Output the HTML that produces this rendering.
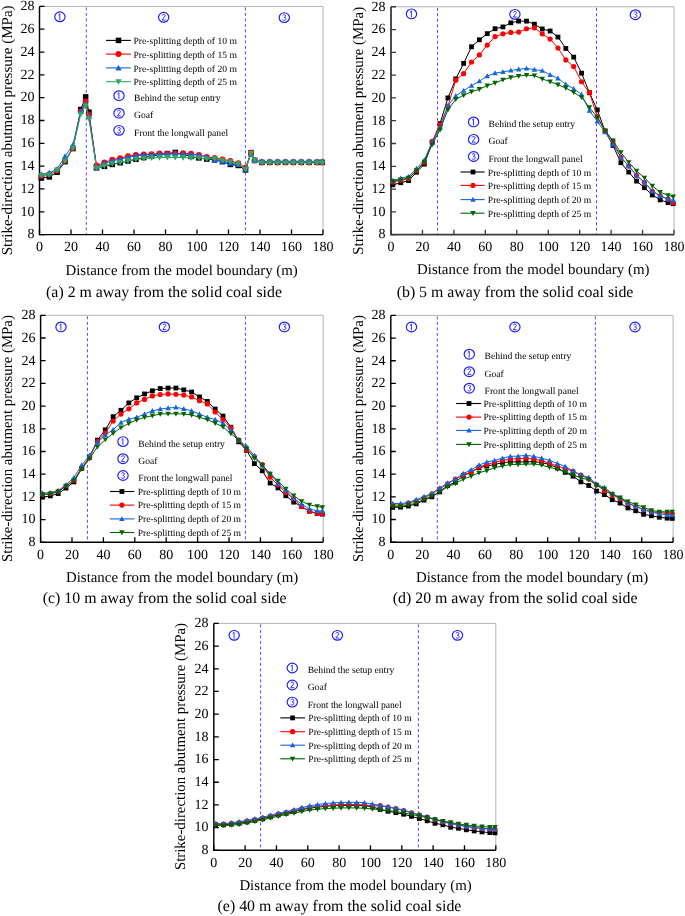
<!DOCTYPE html>
<html><head><meta charset="utf-8"><style>html,body{margin:0;padding:0;background:#fff;width:685px;height:916px;overflow:hidden}svg{display:block;will-change:transform}</style></head>
<body><svg width="685" height="916" viewBox="0 0 685 916" font-family='"Liberation Serif", serif' fill="#000" text-rendering="geometricPrecision">
<rect width="685" height="916" fill="#fff"/>
<path d="M39.5 6.4H323V234.6" fill="none" stroke="#b4b4b4" stroke-width="1"/>
<line x1="86.3" y1="7.4" x2="86.3" y2="234.6" stroke="#4a4aff" stroke-width="1" stroke-dasharray="3 2.5"/>
<line x1="245.4" y1="7.4" x2="245.4" y2="234.6" stroke="#4a4aff" stroke-width="1" stroke-dasharray="3 2.5"/>
<path d="M39.5 234.6h5M39.5 211.78h5M39.5 188.96h5M39.5 166.14h5M39.5 143.32h5M39.5 120.5h5M39.5 97.68h5M39.5 74.86h5M39.5 52.04h5M39.5 29.22h5M39.5 6.4h5M39.5 234.6v-5M71 234.6v-5M102.5 234.6v-5M134 234.6v-5M165.5 234.6v-5M197 234.6v-5M228.5 234.6v-5M260 234.6v-5M291.5 234.6v-5M323 234.6v-5" stroke="#000" stroke-width="1.3" fill="none"/>
<path d="M39.5 6.4V234.6H323" fill="none" stroke="#000" stroke-width="1.45"/>
<text x="34.6" y="238.4" font-size="14" text-anchor="end">8</text>
<text x="34.6" y="215.58" font-size="14" text-anchor="end">10</text>
<text x="34.6" y="192.76" font-size="14" text-anchor="end">12</text>
<text x="34.6" y="169.94" font-size="14" text-anchor="end">14</text>
<text x="34.6" y="147.12" font-size="14" text-anchor="end">16</text>
<text x="34.6" y="124.3" font-size="14" text-anchor="end">18</text>
<text x="34.6" y="101.48" font-size="14" text-anchor="end">20</text>
<text x="34.6" y="78.66" font-size="14" text-anchor="end">22</text>
<text x="34.6" y="55.84" font-size="14" text-anchor="end">24</text>
<text x="34.6" y="33.02" font-size="14" text-anchor="end">26</text>
<text x="34.6" y="10.2" font-size="14" text-anchor="end">28</text>
<text x="39.5" y="251" font-size="14" text-anchor="middle">0</text>
<text x="71" y="251" font-size="14" text-anchor="middle">20</text>
<text x="102.5" y="251" font-size="14" text-anchor="middle">40</text>
<text x="134" y="251" font-size="14" text-anchor="middle">60</text>
<text x="165.5" y="251" font-size="14" text-anchor="middle">80</text>
<text x="197" y="251" font-size="14" text-anchor="middle">100</text>
<text x="228.5" y="251" font-size="14" text-anchor="middle">120</text>
<text x="260" y="251" font-size="14" text-anchor="middle">140</text>
<text x="291.5" y="251" font-size="14" text-anchor="middle">160</text>
<text x="323" y="251" font-size="14" text-anchor="middle">180</text>
<ellipse cx="59.9" cy="16.8" rx="5.15" ry="4.85" fill="none" stroke="#1a1aff" stroke-width="1.15"/><path d="M58.6 14.9L59.8 13.8V19.8" fill="none" stroke="#2a2aff" stroke-width="0.95" stroke-linecap="round" stroke-linejoin="round"/>
<ellipse cx="163.7" cy="17.3" rx="5.15" ry="4.85" fill="none" stroke="#1a1aff" stroke-width="1.15"/><path d="M162.2 15.2C162.5 13.9 165.4 13.9 165.1 15.9L162.1 20H165.2" fill="none" stroke="#2a2aff" stroke-width="0.95" stroke-linecap="round" stroke-linejoin="round"/>
<ellipse cx="284.3" cy="17.6" rx="5.15" ry="4.85" fill="none" stroke="#1a1aff" stroke-width="1.15"/><path d="M282.9 15.3C283.5 14.2 285.9 14.4 285.6 16.2C285.4 17.2 284.6 17.4 284 17.4C285.5 17.4 286.1 18.4 285.8 19.5C285.4 20.7 283.5 20.7 282.8 19.9" fill="none" stroke="#2a2aff" stroke-width="0.95" stroke-linecap="round" stroke-linejoin="round"/>
<polyline points="41.39,178.01 49.27,176.87 57.14,172.19 65.02,161.69 72.89,148.57 80.77,109.55 85.65,96.88 88.95,112.17 96.52,167.85 104.39,166.37 112.27,164.43 120.14,162.72 128.01,161.01 135.89,159.29 143.76,157.58 151.64,156.1 159.51,154.73 167.39,153.59 175.27,152.45 183.14,154.73 191.01,156.44 198.89,157.92 206.76,159.07 214.64,159.86 222.51,161.69 230.39,164.43 238.26,165.46 245.51,169.91 251.02,152.68 254.64,160.44 261.89,162.37 269.76,162.37 277.64,162.37 285.51,162.37 293.39,162.37 301.26,162.37 309.14,162.37 317.01,162.37 322.21,162.37" fill="none" stroke="#000000" stroke-width="1" stroke-linejoin="round"/>
<rect x="38.63" y="175.25" width="5.52" height="5.52" fill="#000000"/>
<rect x="46.51" y="174.11" width="5.52" height="5.52" fill="#000000"/>
<rect x="54.38" y="169.43" width="5.52" height="5.52" fill="#000000"/>
<rect x="62.26" y="158.93" width="5.52" height="5.52" fill="#000000"/>
<rect x="70.13" y="145.81" width="5.52" height="5.52" fill="#000000"/>
<rect x="78" y="106.79" width="5.52" height="5.52" fill="#000000"/>
<rect x="82.89" y="94.12" width="5.52" height="5.52" fill="#000000"/>
<rect x="86.19" y="109.41" width="5.52" height="5.52" fill="#000000"/>
<rect x="93.75" y="165.09" width="5.52" height="5.52" fill="#000000"/>
<rect x="101.63" y="163.61" width="5.52" height="5.52" fill="#000000"/>
<rect x="109.5" y="161.67" width="5.52" height="5.52" fill="#000000"/>
<rect x="117.38" y="159.96" width="5.52" height="5.52" fill="#000000"/>
<rect x="125.25" y="158.25" width="5.52" height="5.52" fill="#000000"/>
<rect x="133.13" y="156.53" width="5.52" height="5.52" fill="#000000"/>
<rect x="141" y="154.82" width="5.52" height="5.52" fill="#000000"/>
<rect x="148.88" y="153.34" width="5.52" height="5.52" fill="#000000"/>
<rect x="156.75" y="151.97" width="5.52" height="5.52" fill="#000000"/>
<rect x="164.63" y="150.83" width="5.52" height="5.52" fill="#000000"/>
<rect x="172.51" y="149.69" width="5.52" height="5.52" fill="#000000"/>
<rect x="180.38" y="151.97" width="5.52" height="5.52" fill="#000000"/>
<rect x="188.25" y="153.68" width="5.52" height="5.52" fill="#000000"/>
<rect x="196.13" y="155.16" width="5.52" height="5.52" fill="#000000"/>
<rect x="204" y="156.31" width="5.52" height="5.52" fill="#000000"/>
<rect x="211.88" y="157.1" width="5.52" height="5.52" fill="#000000"/>
<rect x="219.75" y="158.93" width="5.52" height="5.52" fill="#000000"/>
<rect x="227.63" y="161.67" width="5.52" height="5.52" fill="#000000"/>
<rect x="235.5" y="162.7" width="5.52" height="5.52" fill="#000000"/>
<rect x="242.75" y="167.15" width="5.52" height="5.52" fill="#000000"/>
<rect x="248.26" y="149.92" width="5.52" height="5.52" fill="#000000"/>
<rect x="251.88" y="157.68" width="5.52" height="5.52" fill="#000000"/>
<rect x="259.13" y="159.61" width="5.52" height="5.52" fill="#000000"/>
<rect x="267" y="159.61" width="5.52" height="5.52" fill="#000000"/>
<rect x="274.88" y="159.61" width="5.52" height="5.52" fill="#000000"/>
<rect x="282.75" y="159.61" width="5.52" height="5.52" fill="#000000"/>
<rect x="290.63" y="159.61" width="5.52" height="5.52" fill="#000000"/>
<rect x="298.5" y="159.61" width="5.52" height="5.52" fill="#000000"/>
<rect x="306.38" y="159.61" width="5.52" height="5.52" fill="#000000"/>
<rect x="314.25" y="159.61" width="5.52" height="5.52" fill="#000000"/>
<rect x="319.45" y="159.61" width="5.52" height="5.52" fill="#000000"/>
<polyline points="41.39,175.84 49.27,174.13 57.14,170.48 65.02,160.44 72.89,147.88 80.77,111.37 85.65,101.45 88.95,114.79 96.52,165.57 104.39,162.6 112.27,159.75 120.14,158.15 128.01,156.21 135.89,154.96 143.76,154.39 151.64,154.16 159.51,153.59 167.39,153.82 175.27,153.59 183.14,153.36 191.01,153.82 198.89,154.96 206.76,157.01 214.64,157.92 222.51,159.41 230.39,160.89 238.26,163.17 245.51,167.62 251.02,152.68 254.64,160.21 261.89,162.37 269.76,162.37 277.64,162.37 285.51,162.37 293.39,162.37 301.26,162.37 309.14,162.37 317.01,162.37 322.21,162.37" fill="none" stroke="#ff0000" stroke-width="1" stroke-linejoin="round"/>
<circle cx="41.39" cy="175.84" r="2.99" fill="#ff0000"/>
<circle cx="49.27" cy="174.13" r="2.99" fill="#ff0000"/>
<circle cx="57.14" cy="170.48" r="2.99" fill="#ff0000"/>
<circle cx="65.02" cy="160.44" r="2.99" fill="#ff0000"/>
<circle cx="72.89" cy="147.88" r="2.99" fill="#ff0000"/>
<circle cx="80.77" cy="111.37" r="2.99" fill="#ff0000"/>
<circle cx="85.65" cy="101.45" r="2.99" fill="#ff0000"/>
<circle cx="88.95" cy="114.79" r="2.99" fill="#ff0000"/>
<circle cx="96.52" cy="165.57" r="2.99" fill="#ff0000"/>
<circle cx="104.39" cy="162.6" r="2.99" fill="#ff0000"/>
<circle cx="112.27" cy="159.75" r="2.99" fill="#ff0000"/>
<circle cx="120.14" cy="158.15" r="2.99" fill="#ff0000"/>
<circle cx="128.01" cy="156.21" r="2.99" fill="#ff0000"/>
<circle cx="135.89" cy="154.96" r="2.99" fill="#ff0000"/>
<circle cx="143.76" cy="154.39" r="2.99" fill="#ff0000"/>
<circle cx="151.64" cy="154.16" r="2.99" fill="#ff0000"/>
<circle cx="159.51" cy="153.59" r="2.99" fill="#ff0000"/>
<circle cx="167.39" cy="153.82" r="2.99" fill="#ff0000"/>
<circle cx="175.27" cy="153.59" r="2.99" fill="#ff0000"/>
<circle cx="183.14" cy="153.36" r="2.99" fill="#ff0000"/>
<circle cx="191.01" cy="153.82" r="2.99" fill="#ff0000"/>
<circle cx="198.89" cy="154.96" r="2.99" fill="#ff0000"/>
<circle cx="206.76" cy="157.01" r="2.99" fill="#ff0000"/>
<circle cx="214.64" cy="157.92" r="2.99" fill="#ff0000"/>
<circle cx="222.51" cy="159.41" r="2.99" fill="#ff0000"/>
<circle cx="230.39" cy="160.89" r="2.99" fill="#ff0000"/>
<circle cx="238.26" cy="163.17" r="2.99" fill="#ff0000"/>
<circle cx="245.51" cy="167.62" r="2.99" fill="#ff0000"/>
<circle cx="251.02" cy="152.68" r="2.99" fill="#ff0000"/>
<circle cx="254.64" cy="160.21" r="2.99" fill="#ff0000"/>
<circle cx="261.89" cy="162.37" r="2.99" fill="#ff0000"/>
<circle cx="269.76" cy="162.37" r="2.99" fill="#ff0000"/>
<circle cx="277.64" cy="162.37" r="2.99" fill="#ff0000"/>
<circle cx="285.51" cy="162.37" r="2.99" fill="#ff0000"/>
<circle cx="293.39" cy="162.37" r="2.99" fill="#ff0000"/>
<circle cx="301.26" cy="162.37" r="2.99" fill="#ff0000"/>
<circle cx="309.14" cy="162.37" r="2.99" fill="#ff0000"/>
<circle cx="317.01" cy="162.37" r="2.99" fill="#ff0000"/>
<circle cx="322.21" cy="162.37" r="2.99" fill="#ff0000"/>
<polyline points="41.39,174.36 49.27,172.99 57.14,168.99 65.02,156.44 72.89,144.8 80.77,111.37 85.65,103.5 88.95,116.51 96.52,167.28 104.39,163.29 112.27,160.66 120.14,159.29 128.01,157.24 135.89,155.87 143.76,155.07 151.64,154.73 159.51,154.16 167.39,154.16 175.27,153.82 183.14,154.16 191.01,154.39 198.89,155.3 206.76,156.67 214.64,159.86 222.51,161.23 230.39,163.17 238.26,164.43 245.51,169.33 251.02,154.16 254.64,160.55 261.89,161.35 269.76,161.35 277.64,161.35 285.51,161.35 293.39,161.35 301.26,161.35 309.14,161.35 317.01,161.35 322.21,161.35" fill="none" stroke="#1564e2" stroke-width="1" stroke-linejoin="round"/>
<path d="M41.39 171.24L44.55 176.87L38.23 176.87Z" fill="#1564e2"/>
<path d="M49.27 169.87L52.43 175.5L46.1 175.5Z" fill="#1564e2"/>
<path d="M57.14 165.88L60.3 171.51L53.98 171.51Z" fill="#1564e2"/>
<path d="M65.02 153.32L68.18 158.96L61.85 158.96Z" fill="#1564e2"/>
<path d="M72.89 141.69L76.05 147.32L69.73 147.32Z" fill="#1564e2"/>
<path d="M80.77 108.25L83.93 113.89L77.6 113.89Z" fill="#1564e2"/>
<path d="M85.65 100.38L88.81 106.02L82.49 106.02Z" fill="#1564e2"/>
<path d="M88.95 113.39L92.12 119.02L85.79 119.02Z" fill="#1564e2"/>
<path d="M96.52 164.16L99.68 169.8L93.35 169.8Z" fill="#1564e2"/>
<path d="M104.39 160.17L107.55 165.8L101.23 165.8Z" fill="#1564e2"/>
<path d="M112.27 157.55L115.43 163.18L109.1 163.18Z" fill="#1564e2"/>
<path d="M120.14 156.18L123.3 161.81L116.98 161.81Z" fill="#1564e2"/>
<path d="M128.01 154.12L131.18 159.76L124.85 159.76Z" fill="#1564e2"/>
<path d="M135.89 152.75L139.05 158.39L132.73 158.39Z" fill="#1564e2"/>
<path d="M143.76 151.95L146.93 157.59L140.6 157.59Z" fill="#1564e2"/>
<path d="M151.64 151.61L154.8 157.25L148.48 157.25Z" fill="#1564e2"/>
<path d="M159.51 151.04L162.68 156.68L156.35 156.68Z" fill="#1564e2"/>
<path d="M167.39 151.04L170.55 156.68L164.23 156.68Z" fill="#1564e2"/>
<path d="M175.27 150.7L178.43 156.33L172.1 156.33Z" fill="#1564e2"/>
<path d="M183.14 151.04L186.3 156.68L179.98 156.68Z" fill="#1564e2"/>
<path d="M191.01 151.27L194.18 156.91L187.85 156.91Z" fill="#1564e2"/>
<path d="M198.89 152.18L202.05 157.82L195.73 157.82Z" fill="#1564e2"/>
<path d="M206.76 153.55L209.93 159.19L203.6 159.19Z" fill="#1564e2"/>
<path d="M214.64 156.75L217.8 162.38L211.48 162.38Z" fill="#1564e2"/>
<path d="M222.51 158.12L225.68 163.75L219.35 163.75Z" fill="#1564e2"/>
<path d="M230.39 160.06L233.55 165.69L227.23 165.69Z" fill="#1564e2"/>
<path d="M238.26 161.31L241.43 166.95L235.1 166.95Z" fill="#1564e2"/>
<path d="M245.51 166.22L248.67 171.85L242.35 171.85Z" fill="#1564e2"/>
<path d="M251.02 151.04L254.19 156.68L247.86 156.68Z" fill="#1564e2"/>
<path d="M254.64 157.43L257.81 163.07L251.48 163.07Z" fill="#1564e2"/>
<path d="M261.89 158.23L265.05 163.87L258.73 163.87Z" fill="#1564e2"/>
<path d="M269.76 158.23L272.93 163.87L266.6 163.87Z" fill="#1564e2"/>
<path d="M277.64 158.23L280.8 163.87L274.48 163.87Z" fill="#1564e2"/>
<path d="M285.51 158.23L288.68 163.87L282.35 163.87Z" fill="#1564e2"/>
<path d="M293.39 158.23L296.55 163.87L290.23 163.87Z" fill="#1564e2"/>
<path d="M301.26 158.23L304.43 163.87L298.1 163.87Z" fill="#1564e2"/>
<path d="M309.14 158.23L312.3 163.87L305.98 163.87Z" fill="#1564e2"/>
<path d="M317.01 158.23L320.18 163.87L313.85 163.87Z" fill="#1564e2"/>
<path d="M322.21 158.23L325.38 163.87L319.05 163.87Z" fill="#1564e2"/>
<polyline points="41.39,175.5 49.27,174.93 57.14,170.02 65.02,161.12 72.89,148.34 80.77,114.34 85.65,105.9 88.95,118.79 96.52,168.19 104.39,166.14 112.27,163.74 120.14,162.6 128.01,160.89 135.89,159.41 143.76,158.61 151.64,157.92 159.51,157.58 167.39,157.47 175.27,157.47 183.14,157.58 191.01,157.92 198.89,157.92 206.76,159.07 214.64,158.5 222.51,160.32 230.39,161.69 238.26,163.74 245.51,169.33 251.02,153.59 254.64,160.32 261.89,162.95 269.76,162.95 277.64,162.95 285.51,162.95 293.39,162.95 301.26,162.95 309.14,162.95 317.01,162.95 322.21,162.95" fill="none" stroke="#30a860" stroke-width="1" stroke-linejoin="round"/>
<path d="M41.39 178.61L44.55 172.98L38.23 172.98Z" fill="#30a860"/>
<path d="M49.27 178.04L52.43 172.41L46.1 172.41Z" fill="#30a860"/>
<path d="M57.14 173.14L60.3 167.5L53.98 167.5Z" fill="#30a860"/>
<path d="M65.02 164.24L68.18 158.6L61.85 158.6Z" fill="#30a860"/>
<path d="M72.89 151.46L76.05 145.82L69.73 145.82Z" fill="#30a860"/>
<path d="M80.77 117.46L83.93 111.82L77.6 111.82Z" fill="#30a860"/>
<path d="M85.65 109.01L88.81 103.38L82.49 103.38Z" fill="#30a860"/>
<path d="M88.95 121.91L92.12 116.27L85.79 116.27Z" fill="#30a860"/>
<path d="M96.52 171.31L99.68 165.68L93.35 165.68Z" fill="#30a860"/>
<path d="M104.39 169.26L107.55 163.62L101.23 163.62Z" fill="#30a860"/>
<path d="M112.27 166.86L115.43 161.23L109.1 161.23Z" fill="#30a860"/>
<path d="M120.14 165.72L123.3 160.09L116.98 160.09Z" fill="#30a860"/>
<path d="M128.01 164.01L131.18 158.37L124.85 158.37Z" fill="#30a860"/>
<path d="M135.89 162.53L139.05 156.89L132.73 156.89Z" fill="#30a860"/>
<path d="M143.76 161.73L146.93 156.09L140.6 156.09Z" fill="#30a860"/>
<path d="M151.64 161.04L154.8 155.41L148.48 155.41Z" fill="#30a860"/>
<path d="M159.51 160.7L162.68 155.06L156.35 155.06Z" fill="#30a860"/>
<path d="M167.39 160.59L170.55 154.95L164.23 154.95Z" fill="#30a860"/>
<path d="M175.27 160.59L178.43 154.95L172.1 154.95Z" fill="#30a860"/>
<path d="M183.14 160.7L186.3 155.06L179.98 155.06Z" fill="#30a860"/>
<path d="M191.01 161.04L194.18 155.41L187.85 155.41Z" fill="#30a860"/>
<path d="M198.89 161.04L202.05 155.41L195.73 155.41Z" fill="#30a860"/>
<path d="M206.76 162.18L209.93 156.55L203.6 156.55Z" fill="#30a860"/>
<path d="M214.64 161.61L217.8 155.98L211.48 155.98Z" fill="#30a860"/>
<path d="M222.51 163.44L225.68 157.8L219.35 157.8Z" fill="#30a860"/>
<path d="M230.39 164.81L233.55 159.17L227.23 159.17Z" fill="#30a860"/>
<path d="M238.26 166.86L241.43 161.23L235.1 161.23Z" fill="#30a860"/>
<path d="M245.51 172.45L248.67 166.82L242.35 166.82Z" fill="#30a860"/>
<path d="M251.02 156.71L254.19 151.07L247.86 151.07Z" fill="#30a860"/>
<path d="M254.64 163.44L257.81 157.8L251.48 157.8Z" fill="#30a860"/>
<path d="M261.89 166.06L265.05 160.43L258.73 160.43Z" fill="#30a860"/>
<path d="M269.76 166.06L272.93 160.43L266.6 160.43Z" fill="#30a860"/>
<path d="M277.64 166.06L280.8 160.43L274.48 160.43Z" fill="#30a860"/>
<path d="M285.51 166.06L288.68 160.43L282.35 160.43Z" fill="#30a860"/>
<path d="M293.39 166.06L296.55 160.43L290.23 160.43Z" fill="#30a860"/>
<path d="M301.26 166.06L304.43 160.43L298.1 160.43Z" fill="#30a860"/>
<path d="M309.14 166.06L312.3 160.43L305.98 160.43Z" fill="#30a860"/>
<path d="M317.01 166.06L320.18 160.43L313.85 160.43Z" fill="#30a860"/>
<path d="M322.21 166.06L325.38 160.43L319.05 160.43Z" fill="#30a860"/>
<line x1="106" y1="40.4" x2="130.8" y2="40.4" stroke="#000000" stroke-width="1.1"/>
<rect x="115.74" y="37.64" width="5.52" height="5.52" fill="#000000"/>
<text x="133.5" y="44.1" font-size="9.6">Pre-splitting depth of 10 m</text>
<line x1="106" y1="54.1" x2="130.8" y2="54.1" stroke="#ff0000" stroke-width="1.1"/>
<circle cx="118.5" cy="54.1" r="2.99" fill="#ff0000"/>
<text x="133.5" y="57.8" font-size="9.6">Pre-splitting depth of 15 m</text>
<line x1="106" y1="67.9" x2="130.8" y2="67.9" stroke="#1564e2" stroke-width="1.1"/>
<path d="M118.5 64.78L121.66 70.42L115.34 70.42Z" fill="#1564e2"/>
<text x="133.5" y="71.6" font-size="9.6">Pre-splitting depth of 20 m</text>
<line x1="106" y1="81.7" x2="130.8" y2="81.7" stroke="#30a860" stroke-width="1.1"/>
<path d="M118.5 84.82L121.66 79.18L115.34 79.18Z" fill="#30a860"/>
<text x="133.5" y="85.4" font-size="9.6">Pre-splitting depth of 25 m</text>
<ellipse cx="119" cy="95.7" rx="5.15" ry="4.85" fill="none" stroke="#1a1aff" stroke-width="1.15"/><path d="M117.7 93.8L118.9 92.7V98.7" fill="none" stroke="#2a2aff" stroke-width="0.95" stroke-linecap="round" stroke-linejoin="round"/>
<text x="134" y="100.7" font-size="9.6">Behind the setup entry</text>
<ellipse cx="119" cy="113.2" rx="5.15" ry="4.85" fill="none" stroke="#1a1aff" stroke-width="1.15"/><path d="M117.5 111.1C117.8 109.8 120.7 109.8 120.4 111.8L117.4 115.9H120.5" fill="none" stroke="#2a2aff" stroke-width="0.95" stroke-linecap="round" stroke-linejoin="round"/>
<text x="134" y="118.2" font-size="9.6">Goaf</text>
<ellipse cx="119" cy="130.3" rx="5.15" ry="4.85" fill="none" stroke="#1a1aff" stroke-width="1.15"/><path d="M117.6 128C118.2 126.9 120.6 127.1 120.3 128.9C120.1 129.9 119.3 130.1 118.7 130.1C120.2 130.1 120.8 131.1 120.5 132.2C120.1 133.4 118.2 133.4 117.5 132.6" fill="none" stroke="#2a2aff" stroke-width="0.95" stroke-linecap="round" stroke-linejoin="round"/>
<text x="134" y="136.1" font-size="9.6">Front the longwall panel</text>
<text transform="translate(11.8 255.3) rotate(-90)" x="0" y="0" font-size="15" textLength="249.9" lengthAdjust="spacingAndGlyphs">Strike-direction abutment pressure (MPa)</text>
<text x="65.5" y="274.7" font-size="14.87">Distance from the model boundary (m)</text>
<text x="46.1" y="296.7" font-size="15.85">(a) 2 m away from the solid coal side</text>
<path d="M391 6.75H674V234.65" fill="none" stroke="#b4b4b4" stroke-width="1"/>
<line x1="437.5" y1="7.75" x2="437.5" y2="234.65" stroke="#4a4aff" stroke-width="1" stroke-dasharray="3 2.5"/>
<line x1="596.5" y1="7.75" x2="596.5" y2="234.65" stroke="#4a4aff" stroke-width="1" stroke-dasharray="3 2.5"/>
<path d="M391 234.65h5M391 211.86h5M391 189.07h5M391 166.28h5M391 143.49h5M391 120.7h5M391 97.91h5M391 75.12h5M391 52.33h5M391 29.54h5M391 6.75h5M391 234.65v-5M422.44 234.65v-5M453.89 234.65v-5M485.33 234.65v-5M516.78 234.65v-5M548.22 234.65v-5M579.67 234.65v-5M611.11 234.65v-5M642.56 234.65v-5M674 234.65v-5" stroke="#3a3a3a" stroke-width="1.3" fill="none"/>
<path d="M391 6.75V234.65H674" fill="none" stroke="#3a3a3a" stroke-width="1.8"/>
<text x="385.6" y="238.45" font-size="14" text-anchor="end">8</text>
<text x="385.6" y="215.66" font-size="14" text-anchor="end">10</text>
<text x="385.6" y="192.87" font-size="14" text-anchor="end">12</text>
<text x="385.6" y="170.08" font-size="14" text-anchor="end">14</text>
<text x="385.6" y="147.29" font-size="14" text-anchor="end">16</text>
<text x="385.6" y="124.5" font-size="14" text-anchor="end">18</text>
<text x="385.6" y="101.71" font-size="14" text-anchor="end">20</text>
<text x="385.6" y="78.92" font-size="14" text-anchor="end">22</text>
<text x="385.6" y="56.13" font-size="14" text-anchor="end">24</text>
<text x="385.6" y="33.34" font-size="14" text-anchor="end">26</text>
<text x="385.6" y="10.55" font-size="14" text-anchor="end">28</text>
<text x="391" y="251.05" font-size="14" text-anchor="middle">0</text>
<text x="422.44" y="251.05" font-size="14" text-anchor="middle">20</text>
<text x="453.89" y="251.05" font-size="14" text-anchor="middle">40</text>
<text x="485.33" y="251.05" font-size="14" text-anchor="middle">60</text>
<text x="516.78" y="251.05" font-size="14" text-anchor="middle">80</text>
<text x="548.22" y="251.05" font-size="14" text-anchor="middle">100</text>
<text x="579.67" y="251.05" font-size="14" text-anchor="middle">120</text>
<text x="611.11" y="251.05" font-size="14" text-anchor="middle">140</text>
<text x="642.56" y="251.05" font-size="14" text-anchor="middle">160</text>
<text x="674" y="251.05" font-size="14" text-anchor="middle">180</text>
<ellipse cx="411.5" cy="13.9" rx="5.15" ry="4.85" fill="none" stroke="#1a1aff" stroke-width="1.15"/><path d="M410.2 12L411.4 10.9V16.9" fill="none" stroke="#2a2aff" stroke-width="0.95" stroke-linecap="round" stroke-linejoin="round"/>
<ellipse cx="514.9" cy="14.3" rx="5.15" ry="4.85" fill="none" stroke="#1a1aff" stroke-width="1.15"/><path d="M513.4 12.2C513.7 10.9 516.6 10.9 516.3 12.9L513.3 17H516.4" fill="none" stroke="#2a2aff" stroke-width="0.95" stroke-linecap="round" stroke-linejoin="round"/>
<ellipse cx="635.4" cy="14.7" rx="5.15" ry="4.85" fill="none" stroke="#1a1aff" stroke-width="1.15"/><path d="M634 12.4C634.6 11.3 637 11.5 636.7 13.3C636.5 14.3 635.7 14.5 635.1 14.5C636.6 14.5 637.2 15.5 636.9 16.6C636.5 17.8 634.6 17.8 633.9 17" fill="none" stroke="#2a2aff" stroke-width="0.95" stroke-linecap="round" stroke-linejoin="round"/>
<polyline points="392.89,184.85 400.75,182.69 408.61,180.64 416.47,172.21 424.33,164.11 432.19,142.35 440.05,123.55 447.91,97.91 455.78,78.88 463.64,63.38 471.5,46.75 479.36,39.8 487.22,33.64 495.08,28.74 502.94,26.92 510.8,22.82 518.66,21.11 526.53,21.11 534.39,24.18 542.25,28.97 550.11,31.02 557.97,37.06 565.83,48.46 573.69,57.12 581.55,73.18 589.41,92.67 597.28,109.87 605.14,131.18 613,145.43 620.86,162.75 628.72,172.09 636.58,181.09 644.44,187.7 652.3,195 660.16,199.9 668.03,202.63 673.21,203.66" fill="none" stroke="#000000" stroke-width="1" stroke-linejoin="round"/>
<rect x="390.49" y="182.45" width="4.8" height="4.8" fill="#000000"/>
<rect x="398.35" y="180.29" width="4.8" height="4.8" fill="#000000"/>
<rect x="406.21" y="178.24" width="4.8" height="4.8" fill="#000000"/>
<rect x="414.07" y="169.81" width="4.8" height="4.8" fill="#000000"/>
<rect x="421.93" y="161.71" width="4.8" height="4.8" fill="#000000"/>
<rect x="429.79" y="139.95" width="4.8" height="4.8" fill="#000000"/>
<rect x="437.65" y="121.15" width="4.8" height="4.8" fill="#000000"/>
<rect x="445.51" y="95.51" width="4.8" height="4.8" fill="#000000"/>
<rect x="453.38" y="76.48" width="4.8" height="4.8" fill="#000000"/>
<rect x="461.24" y="60.98" width="4.8" height="4.8" fill="#000000"/>
<rect x="469.1" y="44.35" width="4.8" height="4.8" fill="#000000"/>
<rect x="476.96" y="37.4" width="4.8" height="4.8" fill="#000000"/>
<rect x="484.82" y="31.24" width="4.8" height="4.8" fill="#000000"/>
<rect x="492.68" y="26.34" width="4.8" height="4.8" fill="#000000"/>
<rect x="500.54" y="24.52" width="4.8" height="4.8" fill="#000000"/>
<rect x="508.4" y="20.42" width="4.8" height="4.8" fill="#000000"/>
<rect x="516.26" y="18.71" width="4.8" height="4.8" fill="#000000"/>
<rect x="524.13" y="18.71" width="4.8" height="4.8" fill="#000000"/>
<rect x="531.99" y="21.78" width="4.8" height="4.8" fill="#000000"/>
<rect x="539.85" y="26.57" width="4.8" height="4.8" fill="#000000"/>
<rect x="547.71" y="28.62" width="4.8" height="4.8" fill="#000000"/>
<rect x="555.57" y="34.66" width="4.8" height="4.8" fill="#000000"/>
<rect x="563.43" y="46.06" width="4.8" height="4.8" fill="#000000"/>
<rect x="571.29" y="54.72" width="4.8" height="4.8" fill="#000000"/>
<rect x="579.15" y="70.78" width="4.8" height="4.8" fill="#000000"/>
<rect x="587.01" y="90.27" width="4.8" height="4.8" fill="#000000"/>
<rect x="594.88" y="107.47" width="4.8" height="4.8" fill="#000000"/>
<rect x="602.74" y="128.78" width="4.8" height="4.8" fill="#000000"/>
<rect x="610.6" y="143.03" width="4.8" height="4.8" fill="#000000"/>
<rect x="618.46" y="160.35" width="4.8" height="4.8" fill="#000000"/>
<rect x="626.32" y="169.69" width="4.8" height="4.8" fill="#000000"/>
<rect x="634.18" y="178.69" width="4.8" height="4.8" fill="#000000"/>
<rect x="642.04" y="185.3" width="4.8" height="4.8" fill="#000000"/>
<rect x="649.9" y="192.6" width="4.8" height="4.8" fill="#000000"/>
<rect x="657.76" y="197.5" width="4.8" height="4.8" fill="#000000"/>
<rect x="665.63" y="200.23" width="4.8" height="4.8" fill="#000000"/>
<rect x="670.81" y="201.26" width="4.8" height="4.8" fill="#000000"/>
<polyline points="392.89,182.01 400.75,180.18 408.61,178.47 416.47,170.84 424.33,162.29 432.19,141.44 440.05,124.92 447.91,106.46 455.78,80.13 463.64,73.64 471.5,62.02 479.36,54.95 487.22,45.04 495.08,36.6 502.94,33.87 510.8,32.39 518.66,32.05 526.53,28.74 534.39,27.83 542.25,33.87 550.11,39 557.97,48 565.83,59.96 573.69,66.57 581.55,81.73 589.41,92.67 597.28,116.48 605.14,131.18 613,140.98 620.86,157.39 628.72,166.05 636.58,175.4 644.44,182.35 652.3,191.01 660.16,195.79 668.03,199.1 673.21,202.63" fill="none" stroke="#ff0000" stroke-width="1" stroke-linejoin="round"/>
<circle cx="392.89" cy="182.01" r="2.6" fill="#ff0000"/>
<circle cx="400.75" cy="180.18" r="2.6" fill="#ff0000"/>
<circle cx="408.61" cy="178.47" r="2.6" fill="#ff0000"/>
<circle cx="416.47" cy="170.84" r="2.6" fill="#ff0000"/>
<circle cx="424.33" cy="162.29" r="2.6" fill="#ff0000"/>
<circle cx="432.19" cy="141.44" r="2.6" fill="#ff0000"/>
<circle cx="440.05" cy="124.92" r="2.6" fill="#ff0000"/>
<circle cx="447.91" cy="106.46" r="2.6" fill="#ff0000"/>
<circle cx="455.78" cy="80.13" r="2.6" fill="#ff0000"/>
<circle cx="463.64" cy="73.64" r="2.6" fill="#ff0000"/>
<circle cx="471.5" cy="62.02" r="2.6" fill="#ff0000"/>
<circle cx="479.36" cy="54.95" r="2.6" fill="#ff0000"/>
<circle cx="487.22" cy="45.04" r="2.6" fill="#ff0000"/>
<circle cx="495.08" cy="36.6" r="2.6" fill="#ff0000"/>
<circle cx="502.94" cy="33.87" r="2.6" fill="#ff0000"/>
<circle cx="510.8" cy="32.39" r="2.6" fill="#ff0000"/>
<circle cx="518.66" cy="32.05" r="2.6" fill="#ff0000"/>
<circle cx="526.53" cy="28.74" r="2.6" fill="#ff0000"/>
<circle cx="534.39" cy="27.83" r="2.6" fill="#ff0000"/>
<circle cx="542.25" cy="33.87" r="2.6" fill="#ff0000"/>
<circle cx="550.11" cy="39" r="2.6" fill="#ff0000"/>
<circle cx="557.97" cy="48" r="2.6" fill="#ff0000"/>
<circle cx="565.83" cy="59.96" r="2.6" fill="#ff0000"/>
<circle cx="573.69" cy="66.57" r="2.6" fill="#ff0000"/>
<circle cx="581.55" cy="81.73" r="2.6" fill="#ff0000"/>
<circle cx="589.41" cy="92.67" r="2.6" fill="#ff0000"/>
<circle cx="597.28" cy="116.48" r="2.6" fill="#ff0000"/>
<circle cx="605.14" cy="131.18" r="2.6" fill="#ff0000"/>
<circle cx="613" cy="140.98" r="2.6" fill="#ff0000"/>
<circle cx="620.86" cy="157.39" r="2.6" fill="#ff0000"/>
<circle cx="628.72" cy="166.05" r="2.6" fill="#ff0000"/>
<circle cx="636.58" cy="175.4" r="2.6" fill="#ff0000"/>
<circle cx="644.44" cy="182.35" r="2.6" fill="#ff0000"/>
<circle cx="652.3" cy="191.01" r="2.6" fill="#ff0000"/>
<circle cx="660.16" cy="195.79" r="2.6" fill="#ff0000"/>
<circle cx="668.03" cy="199.1" r="2.6" fill="#ff0000"/>
<circle cx="673.21" cy="202.63" r="2.6" fill="#ff0000"/>
<polyline points="392.89,180.52 400.75,178.24 408.61,176.54 416.47,168.56 424.33,159.9 432.19,142.01 440.05,127.99 447.91,105.77 455.78,95.74 463.64,90.62 471.5,85.72 479.36,81.16 487.22,76.03 495.08,73.07 502.94,71.93 510.8,70.45 518.66,69.31 526.53,68.4 534.39,69.54 542.25,70.68 550.11,74.78 557.97,78.31 565.83,84.24 573.69,88.79 581.55,94.38 589.41,110.67 597.28,121.38 605.14,131.98 613,144.29 620.86,157.39 628.72,166.05 636.58,175.4 644.44,182.35 652.3,191.01 660.16,195.79 668.03,199.1 673.21,200.35" fill="none" stroke="#1564e2" stroke-width="1" stroke-linejoin="round"/>
<path d="M392.89 177.77L395.64 182.67L390.14 182.67Z" fill="#1564e2"/>
<path d="M400.75 175.49L403.5 180.39L398 180.39Z" fill="#1564e2"/>
<path d="M408.61 173.79L411.36 178.69L405.86 178.69Z" fill="#1564e2"/>
<path d="M416.47 165.81L419.22 170.71L413.72 170.71Z" fill="#1564e2"/>
<path d="M424.33 157.15L427.08 162.05L421.58 162.05Z" fill="#1564e2"/>
<path d="M432.19 139.26L434.94 144.16L429.44 144.16Z" fill="#1564e2"/>
<path d="M440.05 125.24L442.8 130.14L437.3 130.14Z" fill="#1564e2"/>
<path d="M447.91 103.02L450.66 107.92L445.16 107.92Z" fill="#1564e2"/>
<path d="M455.78 92.99L458.53 97.89L453.03 97.89Z" fill="#1564e2"/>
<path d="M463.64 87.87L466.39 92.77L460.89 92.77Z" fill="#1564e2"/>
<path d="M471.5 82.97L474.25 87.87L468.75 87.87Z" fill="#1564e2"/>
<path d="M479.36 78.41L482.11 83.31L476.61 83.31Z" fill="#1564e2"/>
<path d="M487.22 73.28L489.97 78.18L484.47 78.18Z" fill="#1564e2"/>
<path d="M495.08 70.32L497.83 75.22L492.33 75.22Z" fill="#1564e2"/>
<path d="M502.94 69.18L505.69 74.08L500.19 74.08Z" fill="#1564e2"/>
<path d="M510.8 67.7L513.55 72.6L508.05 72.6Z" fill="#1564e2"/>
<path d="M518.66 66.56L521.41 71.46L515.91 71.46Z" fill="#1564e2"/>
<path d="M526.53 65.65L529.28 70.55L523.78 70.55Z" fill="#1564e2"/>
<path d="M534.39 66.79L537.14 71.69L531.64 71.69Z" fill="#1564e2"/>
<path d="M542.25 67.93L545 72.83L539.5 72.83Z" fill="#1564e2"/>
<path d="M550.11 72.03L552.86 76.93L547.36 76.93Z" fill="#1564e2"/>
<path d="M557.97 75.56L560.72 80.46L555.22 80.46Z" fill="#1564e2"/>
<path d="M565.83 81.49L568.58 86.39L563.08 86.39Z" fill="#1564e2"/>
<path d="M573.69 86.04L576.44 90.94L570.94 90.94Z" fill="#1564e2"/>
<path d="M581.55 91.63L584.3 96.53L578.8 96.53Z" fill="#1564e2"/>
<path d="M589.41 107.92L592.16 112.82L586.66 112.82Z" fill="#1564e2"/>
<path d="M597.28 118.63L600.03 123.53L594.53 123.53Z" fill="#1564e2"/>
<path d="M605.14 129.23L607.89 134.13L602.39 134.13Z" fill="#1564e2"/>
<path d="M613 141.54L615.75 146.44L610.25 146.44Z" fill="#1564e2"/>
<path d="M620.86 154.64L623.61 159.54L618.11 159.54Z" fill="#1564e2"/>
<path d="M628.72 163.3L631.47 168.2L625.97 168.2Z" fill="#1564e2"/>
<path d="M636.58 172.65L639.33 177.55L633.83 177.55Z" fill="#1564e2"/>
<path d="M644.44 179.6L647.19 184.5L641.69 184.5Z" fill="#1564e2"/>
<path d="M652.3 188.26L655.05 193.16L649.55 193.16Z" fill="#1564e2"/>
<path d="M660.16 193.04L662.91 197.94L657.41 197.94Z" fill="#1564e2"/>
<path d="M668.03 196.35L670.78 201.25L665.28 201.25Z" fill="#1564e2"/>
<path d="M673.21 197.6L675.96 202.5L670.46 202.5Z" fill="#1564e2"/>
<polyline points="392.89,181.44 400.75,179.61 408.61,177.9 416.47,170.5 424.33,161.95 432.19,144.63 440.05,129.7 447.91,109.87 455.78,99.28 463.64,95.29 471.5,91.76 479.36,89.14 487.22,85.72 495.08,82.98 502.94,79.79 510.8,77.51 518.66,76.03 526.53,75.23 534.39,75.58 542.25,78.88 550.11,81.73 557.97,84.69 565.83,88 573.69,92.33 581.55,97.34 589.41,107.48 597.28,117.28 605.14,130.73 613,140.53 620.86,152.49 628.72,162.29 636.58,170.95 644.44,177.79 652.3,185.99 660.16,192.15 668.03,195.45 673.21,196.7" fill="none" stroke="#006400" stroke-width="1" stroke-linejoin="round"/>
<path d="M392.89 184.19L395.64 179.29L390.14 179.29Z" fill="#006400"/>
<path d="M400.75 182.36L403.5 177.46L398 177.46Z" fill="#006400"/>
<path d="M408.61 180.65L411.36 175.75L405.86 175.75Z" fill="#006400"/>
<path d="M416.47 173.25L419.22 168.35L413.72 168.35Z" fill="#006400"/>
<path d="M424.33 164.7L427.08 159.8L421.58 159.8Z" fill="#006400"/>
<path d="M432.19 147.38L434.94 142.48L429.44 142.48Z" fill="#006400"/>
<path d="M440.05 132.45L442.8 127.55L437.3 127.55Z" fill="#006400"/>
<path d="M447.91 112.62L450.66 107.72L445.16 107.72Z" fill="#006400"/>
<path d="M455.78 102.03L458.53 97.13L453.03 97.13Z" fill="#006400"/>
<path d="M463.64 98.04L466.39 93.14L460.89 93.14Z" fill="#006400"/>
<path d="M471.5 94.51L474.25 89.61L468.75 89.61Z" fill="#006400"/>
<path d="M479.36 91.89L482.11 86.99L476.61 86.99Z" fill="#006400"/>
<path d="M487.22 88.47L489.97 83.57L484.47 83.57Z" fill="#006400"/>
<path d="M495.08 85.73L497.83 80.83L492.33 80.83Z" fill="#006400"/>
<path d="M502.94 82.54L505.69 77.64L500.19 77.64Z" fill="#006400"/>
<path d="M510.8 80.26L513.55 75.36L508.05 75.36Z" fill="#006400"/>
<path d="M518.66 78.78L521.41 73.88L515.91 73.88Z" fill="#006400"/>
<path d="M526.53 77.98L529.28 73.08L523.78 73.08Z" fill="#006400"/>
<path d="M534.39 78.33L537.14 73.43L531.64 73.43Z" fill="#006400"/>
<path d="M542.25 81.63L545 76.73L539.5 76.73Z" fill="#006400"/>
<path d="M550.11 84.48L552.86 79.58L547.36 79.58Z" fill="#006400"/>
<path d="M557.97 87.44L560.72 82.54L555.22 82.54Z" fill="#006400"/>
<path d="M565.83 90.75L568.58 85.85L563.08 85.85Z" fill="#006400"/>
<path d="M573.69 95.08L576.44 90.18L570.94 90.18Z" fill="#006400"/>
<path d="M581.55 100.09L584.3 95.19L578.8 95.19Z" fill="#006400"/>
<path d="M589.41 110.23L592.16 105.33L586.66 105.33Z" fill="#006400"/>
<path d="M597.28 120.03L600.03 115.13L594.53 115.13Z" fill="#006400"/>
<path d="M605.14 133.48L607.89 128.58L602.39 128.58Z" fill="#006400"/>
<path d="M613 143.28L615.75 138.38L610.25 138.38Z" fill="#006400"/>
<path d="M620.86 155.24L623.61 150.34L618.11 150.34Z" fill="#006400"/>
<path d="M628.72 165.04L631.47 160.14L625.97 160.14Z" fill="#006400"/>
<path d="M636.58 173.7L639.33 168.8L633.83 168.8Z" fill="#006400"/>
<path d="M644.44 180.54L647.19 175.64L641.69 175.64Z" fill="#006400"/>
<path d="M652.3 188.74L655.05 183.84L649.55 183.84Z" fill="#006400"/>
<path d="M660.16 194.9L662.91 190L657.41 190Z" fill="#006400"/>
<path d="M668.03 198.2L670.78 193.3L665.28 193.3Z" fill="#006400"/>
<path d="M673.21 199.45L675.96 194.55L670.46 194.55Z" fill="#006400"/>
<line x1="460.5" y1="172" x2="484.6" y2="172" stroke="#000000" stroke-width="1.1"/>
<rect x="470.6" y="169.6" width="4.8" height="4.8" fill="#000000"/>
<text x="487.8" y="175.8" font-size="9.6">Pre-splitting depth of 10 m</text>
<line x1="460.5" y1="185.4" x2="484.6" y2="185.4" stroke="#ff0000" stroke-width="1.1"/>
<circle cx="473" cy="185.4" r="2.6" fill="#ff0000"/>
<text x="487.8" y="189.2" font-size="9.6">Pre-splitting depth of 15 m</text>
<line x1="460.5" y1="199.6" x2="484.6" y2="199.6" stroke="#1564e2" stroke-width="1.1"/>
<path d="M473 196.85L475.75 201.75L470.25 201.75Z" fill="#1564e2"/>
<text x="487.8" y="203.4" font-size="9.6">Pre-splitting depth of 20 m</text>
<line x1="460.5" y1="213.2" x2="484.6" y2="213.2" stroke="#006400" stroke-width="1.1"/>
<path d="M473 215.95L475.75 211.05L470.25 211.05Z" fill="#006400"/>
<text x="487.8" y="217" font-size="9.6">Pre-splitting depth of 25 m</text>
<ellipse cx="473.6" cy="121.9" rx="5.15" ry="4.85" fill="none" stroke="#1a1aff" stroke-width="1.15"/><path d="M472.3 120L473.5 118.9V124.9" fill="none" stroke="#2a2aff" stroke-width="0.95" stroke-linecap="round" stroke-linejoin="round"/>
<text x="488.5" y="126.9" font-size="9.6">Behind the setup entry</text>
<ellipse cx="473.6" cy="139.4" rx="5.15" ry="4.85" fill="none" stroke="#1a1aff" stroke-width="1.15"/><path d="M472.1 137.3C472.4 136 475.3 136 475 138L472 142.1H475.1" fill="none" stroke="#2a2aff" stroke-width="0.95" stroke-linecap="round" stroke-linejoin="round"/>
<text x="488.5" y="144.4" font-size="9.6">Goaf</text>
<ellipse cx="473.6" cy="156.5" rx="5.15" ry="4.85" fill="none" stroke="#1a1aff" stroke-width="1.15"/><path d="M472.2 154.2C472.8 153.1 475.2 153.3 474.9 155.1C474.7 156.1 473.9 156.3 473.3 156.3C474.8 156.3 475.4 157.3 475.1 158.4C474.7 159.6 472.8 159.6 472.1 158.8" fill="none" stroke="#2a2aff" stroke-width="0.95" stroke-linecap="round" stroke-linejoin="round"/>
<text x="488.5" y="162.3" font-size="9.6">Front the longwall panel</text>
<text transform="translate(362.9 254.8) rotate(-90)" x="0" y="0" font-size="15" textLength="248" lengthAdjust="spacingAndGlyphs">Strike-direction abutment pressure (MPa)</text>
<text x="417.1" y="274.3" font-size="14.87">Distance from the model boundary (m)</text>
<text x="396.7" y="296.6" font-size="15.85">(b) 5 m away from the solid coal side</text>
<path d="M40.6 315.3H323.2V542.3" fill="none" stroke="#b4b4b4" stroke-width="1"/>
<line x1="87.4" y1="316.3" x2="87.4" y2="542.3" stroke="#4a4aff" stroke-width="1" stroke-dasharray="3 2.5"/>
<line x1="245.4" y1="316.3" x2="245.4" y2="542.3" stroke="#4a4aff" stroke-width="1" stroke-dasharray="3 2.5"/>
<path d="M40.6 542.3h5M40.6 519.6h5M40.6 496.9h5M40.6 474.2h5M40.6 451.5h5M40.6 428.8h5M40.6 406.1h5M40.6 383.4h5M40.6 360.7h5M40.6 338h5M40.6 315.3h5M40.6 542.3v-5M72 542.3v-5M103.4 542.3v-5M134.8 542.3v-5M166.2 542.3v-5M197.6 542.3v-5M229 542.3v-5M260.4 542.3v-5M291.8 542.3v-5M323.2 542.3v-5" stroke="#000" stroke-width="1.3" fill="none"/>
<path d="M40.6 315.3V542.3H323.2" fill="none" stroke="#000" stroke-width="1.45"/>
<text x="35.5" y="546.1" font-size="14" text-anchor="end">8</text>
<text x="35.5" y="523.4" font-size="14" text-anchor="end">10</text>
<text x="35.5" y="500.7" font-size="14" text-anchor="end">12</text>
<text x="35.5" y="478" font-size="14" text-anchor="end">14</text>
<text x="35.5" y="455.3" font-size="14" text-anchor="end">16</text>
<text x="35.5" y="432.6" font-size="14" text-anchor="end">18</text>
<text x="35.5" y="409.9" font-size="14" text-anchor="end">20</text>
<text x="35.5" y="387.2" font-size="14" text-anchor="end">22</text>
<text x="35.5" y="364.5" font-size="14" text-anchor="end">24</text>
<text x="35.5" y="341.8" font-size="14" text-anchor="end">26</text>
<text x="35.5" y="319.1" font-size="14" text-anchor="end">28</text>
<text x="40.6" y="558.7" font-size="14" text-anchor="middle">0</text>
<text x="72" y="558.7" font-size="14" text-anchor="middle">20</text>
<text x="103.4" y="558.7" font-size="14" text-anchor="middle">40</text>
<text x="134.8" y="558.7" font-size="14" text-anchor="middle">60</text>
<text x="166.2" y="558.7" font-size="14" text-anchor="middle">80</text>
<text x="197.6" y="558.7" font-size="14" text-anchor="middle">100</text>
<text x="229" y="558.7" font-size="14" text-anchor="middle">120</text>
<text x="260.4" y="558.7" font-size="14" text-anchor="middle">140</text>
<text x="291.8" y="558.7" font-size="14" text-anchor="middle">160</text>
<text x="323.2" y="558.7" font-size="14" text-anchor="middle">180</text>
<ellipse cx="61" cy="326.9" rx="5.15" ry="4.85" fill="none" stroke="#1a1aff" stroke-width="1.15"/><path d="M59.7 325L60.9 323.9V329.9" fill="none" stroke="#2a2aff" stroke-width="0.95" stroke-linecap="round" stroke-linejoin="round"/>
<ellipse cx="164.4" cy="326.9" rx="5.15" ry="4.85" fill="none" stroke="#1a1aff" stroke-width="1.15"/><path d="M162.9 324.8C163.2 323.5 166.1 323.5 165.8 325.5L162.8 329.6H165.9" fill="none" stroke="#2a2aff" stroke-width="0.95" stroke-linecap="round" stroke-linejoin="round"/>
<ellipse cx="284.4" cy="326.9" rx="5.15" ry="4.85" fill="none" stroke="#1a1aff" stroke-width="1.15"/><path d="M283 324.6C283.6 323.5 286 323.7 285.7 325.5C285.5 326.5 284.7 326.7 284.1 326.7C285.6 326.7 286.2 327.7 285.9 328.8C285.5 330 283.6 330 282.9 329.2" fill="none" stroke="#2a2aff" stroke-width="0.95" stroke-linecap="round" stroke-linejoin="round"/>
<polyline points="42.48,497.24 50.33,495.88 58.18,493.61 66.03,488.05 73.88,481.92 81.73,468.41 89.58,457.29 97.43,440.15 105.28,429.82 113.13,416.66 120.98,410.3 128.83,402.92 136.68,397.81 144.53,393.96 152.38,390.78 160.23,388.51 168.08,388.05 175.93,388.05 183.78,389.87 191.63,392.03 199.48,396.91 207.33,401.45 215.18,409.05 223.03,416.09 230.88,427.21 238.73,441.85 246.58,450.59 254.43,463.64 262.28,470.79 270.13,483.05 277.98,487.93 285.83,495.76 293.68,502.12 301.53,506.55 309.38,511.2 317.23,513.58 322.42,514.15" fill="none" stroke="#000000" stroke-width="1" stroke-linejoin="round"/>
<rect x="40.08" y="494.84" width="4.8" height="4.8" fill="#000000"/>
<rect x="47.93" y="493.48" width="4.8" height="4.8" fill="#000000"/>
<rect x="55.78" y="491.21" width="4.8" height="4.8" fill="#000000"/>
<rect x="63.63" y="485.65" width="4.8" height="4.8" fill="#000000"/>
<rect x="71.48" y="479.52" width="4.8" height="4.8" fill="#000000"/>
<rect x="79.33" y="466.01" width="4.8" height="4.8" fill="#000000"/>
<rect x="87.18" y="454.89" width="4.8" height="4.8" fill="#000000"/>
<rect x="95.03" y="437.75" width="4.8" height="4.8" fill="#000000"/>
<rect x="102.88" y="427.42" width="4.8" height="4.8" fill="#000000"/>
<rect x="110.73" y="414.26" width="4.8" height="4.8" fill="#000000"/>
<rect x="118.58" y="407.9" width="4.8" height="4.8" fill="#000000"/>
<rect x="126.43" y="400.52" width="4.8" height="4.8" fill="#000000"/>
<rect x="134.28" y="395.41" width="4.8" height="4.8" fill="#000000"/>
<rect x="142.13" y="391.56" width="4.8" height="4.8" fill="#000000"/>
<rect x="149.98" y="388.38" width="4.8" height="4.8" fill="#000000"/>
<rect x="157.83" y="386.11" width="4.8" height="4.8" fill="#000000"/>
<rect x="165.68" y="385.65" width="4.8" height="4.8" fill="#000000"/>
<rect x="173.53" y="385.65" width="4.8" height="4.8" fill="#000000"/>
<rect x="181.38" y="387.47" width="4.8" height="4.8" fill="#000000"/>
<rect x="189.23" y="389.63" width="4.8" height="4.8" fill="#000000"/>
<rect x="197.08" y="394.51" width="4.8" height="4.8" fill="#000000"/>
<rect x="204.93" y="399.05" width="4.8" height="4.8" fill="#000000"/>
<rect x="212.78" y="406.65" width="4.8" height="4.8" fill="#000000"/>
<rect x="220.63" y="413.69" width="4.8" height="4.8" fill="#000000"/>
<rect x="228.48" y="424.81" width="4.8" height="4.8" fill="#000000"/>
<rect x="236.33" y="439.45" width="4.8" height="4.8" fill="#000000"/>
<rect x="244.18" y="448.19" width="4.8" height="4.8" fill="#000000"/>
<rect x="252.03" y="461.24" width="4.8" height="4.8" fill="#000000"/>
<rect x="259.88" y="468.39" width="4.8" height="4.8" fill="#000000"/>
<rect x="267.73" y="480.65" width="4.8" height="4.8" fill="#000000"/>
<rect x="275.58" y="485.53" width="4.8" height="4.8" fill="#000000"/>
<rect x="283.43" y="493.37" width="4.8" height="4.8" fill="#000000"/>
<rect x="291.28" y="499.72" width="4.8" height="4.8" fill="#000000"/>
<rect x="299.13" y="504.15" width="4.8" height="4.8" fill="#000000"/>
<rect x="306.98" y="508.8" width="4.8" height="4.8" fill="#000000"/>
<rect x="314.83" y="511.18" width="4.8" height="4.8" fill="#000000"/>
<rect x="320.02" y="511.75" width="4.8" height="4.8" fill="#000000"/>
<polyline points="42.48,494.29 50.33,493.61 58.18,491.34 66.03,485.78 73.88,480.22 81.73,467.96 89.58,457.29 97.43,441.51 105.28,433 113.13,421.08 120.98,414.04 128.83,408.82 136.68,402.92 144.53,399.4 152.38,395.88 160.23,394.52 168.08,393.96 175.93,394.3 183.78,395.09 191.63,397.02 199.48,400.65 207.33,403.94 215.18,412 223.03,419.61 230.88,427.78 238.73,440.15 246.58,450.14 254.43,456.61 262.28,464.55 270.13,477.15 277.98,484.98 285.83,492.59 293.68,498.94 301.53,506.55 309.38,511.2 317.23,513.24 322.42,513.81" fill="none" stroke="#ff0000" stroke-width="1" stroke-linejoin="round"/>
<circle cx="42.48" cy="494.29" r="2.6" fill="#ff0000"/>
<circle cx="50.33" cy="493.61" r="2.6" fill="#ff0000"/>
<circle cx="58.18" cy="491.34" r="2.6" fill="#ff0000"/>
<circle cx="66.03" cy="485.78" r="2.6" fill="#ff0000"/>
<circle cx="73.88" cy="480.22" r="2.6" fill="#ff0000"/>
<circle cx="81.73" cy="467.96" r="2.6" fill="#ff0000"/>
<circle cx="89.58" cy="457.29" r="2.6" fill="#ff0000"/>
<circle cx="97.43" cy="441.51" r="2.6" fill="#ff0000"/>
<circle cx="105.28" cy="433" r="2.6" fill="#ff0000"/>
<circle cx="113.13" cy="421.08" r="2.6" fill="#ff0000"/>
<circle cx="120.98" cy="414.04" r="2.6" fill="#ff0000"/>
<circle cx="128.83" cy="408.82" r="2.6" fill="#ff0000"/>
<circle cx="136.68" cy="402.92" r="2.6" fill="#ff0000"/>
<circle cx="144.53" cy="399.4" r="2.6" fill="#ff0000"/>
<circle cx="152.38" cy="395.88" r="2.6" fill="#ff0000"/>
<circle cx="160.23" cy="394.52" r="2.6" fill="#ff0000"/>
<circle cx="168.08" cy="393.96" r="2.6" fill="#ff0000"/>
<circle cx="175.93" cy="394.3" r="2.6" fill="#ff0000"/>
<circle cx="183.78" cy="395.09" r="2.6" fill="#ff0000"/>
<circle cx="191.63" cy="397.02" r="2.6" fill="#ff0000"/>
<circle cx="199.48" cy="400.65" r="2.6" fill="#ff0000"/>
<circle cx="207.33" cy="403.94" r="2.6" fill="#ff0000"/>
<circle cx="215.18" cy="412" r="2.6" fill="#ff0000"/>
<circle cx="223.03" cy="419.61" r="2.6" fill="#ff0000"/>
<circle cx="230.88" cy="427.78" r="2.6" fill="#ff0000"/>
<circle cx="238.73" cy="440.15" r="2.6" fill="#ff0000"/>
<circle cx="246.58" cy="450.14" r="2.6" fill="#ff0000"/>
<circle cx="254.43" cy="456.61" r="2.6" fill="#ff0000"/>
<circle cx="262.28" cy="464.55" r="2.6" fill="#ff0000"/>
<circle cx="270.13" cy="477.15" r="2.6" fill="#ff0000"/>
<circle cx="277.98" cy="484.98" r="2.6" fill="#ff0000"/>
<circle cx="285.83" cy="492.59" r="2.6" fill="#ff0000"/>
<circle cx="293.68" cy="498.94" r="2.6" fill="#ff0000"/>
<circle cx="301.53" cy="506.55" r="2.6" fill="#ff0000"/>
<circle cx="309.38" cy="511.2" r="2.6" fill="#ff0000"/>
<circle cx="317.23" cy="513.24" r="2.6" fill="#ff0000"/>
<circle cx="322.42" cy="513.81" r="2.6" fill="#ff0000"/>
<polyline points="42.48,493.27 50.33,492.59 58.18,490.54 66.03,484.76 73.88,477.49 81.73,465.12 89.58,455.25 97.43,442.65 105.28,435.04 113.13,429.71 120.98,422.56 128.83,419.15 136.68,417.34 144.53,414.04 152.38,410.87 160.23,409.05 168.08,408.03 175.93,407.35 183.78,408.82 191.63,410.87 199.48,414.04 207.33,417.34 215.18,419.61 223.03,423.12 230.88,430.05 238.73,440.15 246.58,446.51 254.43,455.81 262.28,465.46 270.13,473.29 277.98,483.85 285.83,490.54 293.68,498.38 301.53,504.16 309.38,508.93 317.23,510.75 322.42,510.97" fill="none" stroke="#1564e2" stroke-width="1" stroke-linejoin="round"/>
<path d="M42.48 490.52L45.23 495.42L39.73 495.42Z" fill="#1564e2"/>
<path d="M50.33 489.84L53.08 494.74L47.58 494.74Z" fill="#1564e2"/>
<path d="M58.18 487.79L60.93 492.69L55.43 492.69Z" fill="#1564e2"/>
<path d="M66.03 482.01L68.78 486.91L63.28 486.91Z" fill="#1564e2"/>
<path d="M73.88 474.74L76.63 479.64L71.13 479.64Z" fill="#1564e2"/>
<path d="M81.73 462.37L84.48 467.27L78.98 467.27Z" fill="#1564e2"/>
<path d="M89.58 452.5L92.33 457.4L86.83 457.4Z" fill="#1564e2"/>
<path d="M97.43 439.9L100.18 444.8L94.68 444.8Z" fill="#1564e2"/>
<path d="M105.28 432.29L108.03 437.19L102.53 437.19Z" fill="#1564e2"/>
<path d="M113.13 426.96L115.88 431.86L110.38 431.86Z" fill="#1564e2"/>
<path d="M120.98 419.81L123.73 424.71L118.23 424.71Z" fill="#1564e2"/>
<path d="M128.83 416.4L131.58 421.3L126.08 421.3Z" fill="#1564e2"/>
<path d="M136.68 414.59L139.43 419.49L133.93 419.49Z" fill="#1564e2"/>
<path d="M144.53 411.29L147.28 416.19L141.78 416.19Z" fill="#1564e2"/>
<path d="M152.38 408.12L155.13 413.02L149.63 413.02Z" fill="#1564e2"/>
<path d="M160.23 406.3L162.98 411.2L157.48 411.2Z" fill="#1564e2"/>
<path d="M168.08 405.28L170.83 410.18L165.33 410.18Z" fill="#1564e2"/>
<path d="M175.93 404.6L178.68 409.5L173.18 409.5Z" fill="#1564e2"/>
<path d="M183.78 406.07L186.53 410.97L181.03 410.97Z" fill="#1564e2"/>
<path d="M191.63 408.12L194.38 413.02L188.88 413.02Z" fill="#1564e2"/>
<path d="M199.48 411.29L202.23 416.19L196.73 416.19Z" fill="#1564e2"/>
<path d="M207.33 414.59L210.08 419.49L204.58 419.49Z" fill="#1564e2"/>
<path d="M215.18 416.86L217.93 421.76L212.43 421.76Z" fill="#1564e2"/>
<path d="M223.03 420.38L225.78 425.27L220.28 425.27Z" fill="#1564e2"/>
<path d="M230.88 427.3L233.63 432.2L228.13 432.2Z" fill="#1564e2"/>
<path d="M238.73 437.4L241.48 442.3L235.98 442.3Z" fill="#1564e2"/>
<path d="M246.58 443.76L249.33 448.66L243.83 448.66Z" fill="#1564e2"/>
<path d="M254.43 453.06L257.18 457.96L251.68 457.96Z" fill="#1564e2"/>
<path d="M262.28 462.71L265.03 467.61L259.53 467.61Z" fill="#1564e2"/>
<path d="M270.13 470.54L272.88 475.44L267.38 475.44Z" fill="#1564e2"/>
<path d="M277.98 481.1L280.73 486L275.23 486Z" fill="#1564e2"/>
<path d="M285.83 487.79L288.58 492.69L283.08 492.69Z" fill="#1564e2"/>
<path d="M293.68 495.63L296.43 500.53L290.93 500.53Z" fill="#1564e2"/>
<path d="M301.53 501.41L304.28 506.31L298.78 506.31Z" fill="#1564e2"/>
<path d="M309.38 506.18L312.13 511.08L306.63 511.08Z" fill="#1564e2"/>
<path d="M317.23 508L319.98 512.9L314.48 512.9Z" fill="#1564e2"/>
<path d="M322.42 508.22L325.17 513.12L319.67 513.12Z" fill="#1564e2"/>
<polyline points="42.48,494.63 50.33,493.95 58.18,491.68 66.03,486.12 73.88,480.56 81.73,468.98 89.58,458.65 97.43,446.85 105.28,439.58 113.13,433.34 120.98,427.55 128.83,423.47 136.68,419.95 144.53,417.34 152.38,415.75 160.23,414.04 168.08,413.82 175.93,413.82 183.78,414.04 191.63,414.95 199.48,417.34 207.33,419.61 215.18,423.12 223.03,426.98 230.88,433.57 238.73,440.15 246.58,448.55 254.43,458.2 262.28,465.12 270.13,473.86 277.98,480.9 285.83,488.84 293.68,495.54 301.53,501.33 309.38,504.84 317.23,506.32 322.42,507.46" fill="none" stroke="#006400" stroke-width="1" stroke-linejoin="round"/>
<path d="M42.48 497.38L45.23 492.48L39.73 492.48Z" fill="#006400"/>
<path d="M50.33 496.7L53.08 491.8L47.58 491.8Z" fill="#006400"/>
<path d="M58.18 494.43L60.93 489.53L55.43 489.53Z" fill="#006400"/>
<path d="M66.03 488.87L68.78 483.97L63.28 483.97Z" fill="#006400"/>
<path d="M73.88 483.31L76.63 478.41L71.13 478.41Z" fill="#006400"/>
<path d="M81.73 471.73L84.48 466.83L78.98 466.83Z" fill="#006400"/>
<path d="M89.58 461.4L92.33 456.5L86.83 456.5Z" fill="#006400"/>
<path d="M97.43 449.6L100.18 444.7L94.68 444.7Z" fill="#006400"/>
<path d="M105.28 442.33L108.03 437.43L102.53 437.43Z" fill="#006400"/>
<path d="M113.13 436.09L115.88 431.19L110.38 431.19Z" fill="#006400"/>
<path d="M120.98 430.3L123.73 425.4L118.23 425.4Z" fill="#006400"/>
<path d="M128.83 426.22L131.58 421.32L126.08 421.32Z" fill="#006400"/>
<path d="M136.68 422.7L139.43 417.8L133.93 417.8Z" fill="#006400"/>
<path d="M144.53 420.09L147.28 415.19L141.78 415.19Z" fill="#006400"/>
<path d="M152.38 418.5L155.13 413.6L149.63 413.6Z" fill="#006400"/>
<path d="M160.23 416.79L162.98 411.89L157.48 411.89Z" fill="#006400"/>
<path d="M168.08 416.57L170.83 411.67L165.33 411.67Z" fill="#006400"/>
<path d="M175.93 416.57L178.68 411.67L173.18 411.67Z" fill="#006400"/>
<path d="M183.78 416.79L186.53 411.89L181.03 411.89Z" fill="#006400"/>
<path d="M191.63 417.7L194.38 412.8L188.88 412.8Z" fill="#006400"/>
<path d="M199.48 420.09L202.23 415.19L196.73 415.19Z" fill="#006400"/>
<path d="M207.33 422.36L210.08 417.46L204.58 417.46Z" fill="#006400"/>
<path d="M215.18 425.88L217.93 420.98L212.43 420.98Z" fill="#006400"/>
<path d="M223.03 429.73L225.78 424.83L220.28 424.83Z" fill="#006400"/>
<path d="M230.88 436.32L233.63 431.42L228.13 431.42Z" fill="#006400"/>
<path d="M238.73 442.9L241.48 438L235.98 438Z" fill="#006400"/>
<path d="M246.58 451.3L249.33 446.4L243.83 446.4Z" fill="#006400"/>
<path d="M254.43 460.95L257.18 456.05L251.68 456.05Z" fill="#006400"/>
<path d="M262.28 467.87L265.03 462.97L259.53 462.97Z" fill="#006400"/>
<path d="M270.13 476.61L272.88 471.71L267.38 471.71Z" fill="#006400"/>
<path d="M277.98 483.65L280.73 478.75L275.23 478.75Z" fill="#006400"/>
<path d="M285.83 491.59L288.58 486.69L283.08 486.69Z" fill="#006400"/>
<path d="M293.68 498.29L296.43 493.39L290.93 493.39Z" fill="#006400"/>
<path d="M301.53 504.08L304.28 499.18L298.78 499.18Z" fill="#006400"/>
<path d="M309.38 507.59L312.13 502.69L306.63 502.69Z" fill="#006400"/>
<path d="M317.23 509.07L319.98 504.17L314.48 504.17Z" fill="#006400"/>
<path d="M322.42 510.21L325.17 505.31L319.67 505.31Z" fill="#006400"/>
<line x1="109.9" y1="491.5" x2="134.4" y2="491.5" stroke="#000000" stroke-width="1.1"/>
<rect x="119.5" y="489.1" width="4.8" height="4.8" fill="#000000"/>
<text x="137.7" y="494.8" font-size="9.6">Pre-splitting depth of 10 m</text>
<line x1="109.9" y1="505.1" x2="134.4" y2="505.1" stroke="#ff0000" stroke-width="1.1"/>
<circle cx="121.9" cy="505.1" r="2.6" fill="#ff0000"/>
<text x="137.7" y="508.4" font-size="9.6">Pre-splitting depth of 15 m</text>
<line x1="109.9" y1="518.9" x2="134.4" y2="518.9" stroke="#1564e2" stroke-width="1.1"/>
<path d="M121.9 516.15L124.65 521.05L119.15 521.05Z" fill="#1564e2"/>
<text x="137.7" y="522.2" font-size="9.6">Pre-splitting depth of 20 m</text>
<line x1="109.9" y1="532.5" x2="134.4" y2="532.5" stroke="#006400" stroke-width="1.1"/>
<path d="M121.9 535.25L124.65 530.35L119.15 530.35Z" fill="#006400"/>
<text x="137.7" y="535.8" font-size="9.6">Pre-splitting depth of 25 m</text>
<ellipse cx="123" cy="441.6" rx="5.15" ry="4.85" fill="none" stroke="#1a1aff" stroke-width="1.15"/><path d="M121.7 439.7L122.9 438.6V444.6" fill="none" stroke="#2a2aff" stroke-width="0.95" stroke-linecap="round" stroke-linejoin="round"/>
<text x="138.3" y="446.6" font-size="9.6">Behind the setup entry</text>
<ellipse cx="123" cy="458.7" rx="5.15" ry="4.85" fill="none" stroke="#1a1aff" stroke-width="1.15"/><path d="M121.5 456.6C121.8 455.3 124.7 455.3 124.4 457.3L121.4 461.4H124.5" fill="none" stroke="#2a2aff" stroke-width="0.95" stroke-linecap="round" stroke-linejoin="round"/>
<text x="138.3" y="463.7" font-size="9.6">Goaf</text>
<ellipse cx="123" cy="475.5" rx="5.15" ry="4.85" fill="none" stroke="#1a1aff" stroke-width="1.15"/><path d="M121.6 473.2C122.2 472.1 124.6 472.3 124.3 474.1C124.1 475.1 123.3 475.3 122.7 475.3C124.2 475.3 124.8 476.3 124.5 477.4C124.1 478.6 122.2 478.6 121.5 477.8" fill="none" stroke="#2a2aff" stroke-width="0.95" stroke-linecap="round" stroke-linejoin="round"/>
<text x="138.3" y="481.3" font-size="9.6">Front the longwall panel</text>
<text transform="translate(12 562) rotate(-90)" x="0" y="0" font-size="15" textLength="246.9" lengthAdjust="spacingAndGlyphs">Strike-direction abutment pressure (MPa)</text>
<text x="66" y="582" font-size="14.87">Distance from the model boundary (m)</text>
<text x="42.8" y="603.2" font-size="15.85">(c) 10 m away from the solid coal side</text>
<path d="M390.8 315.4H673.1V542.2" fill="none" stroke="#b4b4b4" stroke-width="1"/>
<line x1="437.3" y1="316.4" x2="437.3" y2="542.2" stroke="#4a4aff" stroke-width="1" stroke-dasharray="3 2.5"/>
<line x1="595.4" y1="316.4" x2="595.4" y2="542.2" stroke="#4a4aff" stroke-width="1" stroke-dasharray="3 2.5"/>
<path d="M390.8 542.2h5M390.8 519.52h5M390.8 496.84h5M390.8 474.16h5M390.8 451.48h5M390.8 428.8h5M390.8 406.12h5M390.8 383.44h5M390.8 360.76h5M390.8 338.08h5M390.8 315.4h5M390.8 542.2v-5M422.17 542.2v-5M453.53 542.2v-5M484.9 542.2v-5M516.27 542.2v-5M547.63 542.2v-5M579 542.2v-5M610.37 542.2v-5M641.73 542.2v-5M673.1 542.2v-5" stroke="#000" stroke-width="1.3" fill="none"/>
<path d="M390.8 315.4V542.2H673.1" fill="none" stroke="#000" stroke-width="1.45"/>
<text x="385.5" y="546" font-size="14" text-anchor="end">8</text>
<text x="385.5" y="523.32" font-size="14" text-anchor="end">10</text>
<text x="385.5" y="500.64" font-size="14" text-anchor="end">12</text>
<text x="385.5" y="477.96" font-size="14" text-anchor="end">14</text>
<text x="385.5" y="455.28" font-size="14" text-anchor="end">16</text>
<text x="385.5" y="432.6" font-size="14" text-anchor="end">18</text>
<text x="385.5" y="409.92" font-size="14" text-anchor="end">20</text>
<text x="385.5" y="387.24" font-size="14" text-anchor="end">22</text>
<text x="385.5" y="364.56" font-size="14" text-anchor="end">24</text>
<text x="385.5" y="341.88" font-size="14" text-anchor="end">26</text>
<text x="385.5" y="319.2" font-size="14" text-anchor="end">28</text>
<text x="390.8" y="558.6" font-size="14" text-anchor="middle">0</text>
<text x="422.17" y="558.6" font-size="14" text-anchor="middle">20</text>
<text x="453.53" y="558.6" font-size="14" text-anchor="middle">40</text>
<text x="484.9" y="558.6" font-size="14" text-anchor="middle">60</text>
<text x="516.27" y="558.6" font-size="14" text-anchor="middle">80</text>
<text x="547.63" y="558.6" font-size="14" text-anchor="middle">100</text>
<text x="579" y="558.6" font-size="14" text-anchor="middle">120</text>
<text x="610.37" y="558.6" font-size="14" text-anchor="middle">140</text>
<text x="641.73" y="558.6" font-size="14" text-anchor="middle">160</text>
<text x="673.1" y="558.6" font-size="14" text-anchor="middle">180</text>
<ellipse cx="411.5" cy="327" rx="5.15" ry="4.85" fill="none" stroke="#1a1aff" stroke-width="1.15"/><path d="M410.2 325.1L411.4 324V330" fill="none" stroke="#2a2aff" stroke-width="0.95" stroke-linecap="round" stroke-linejoin="round"/>
<ellipse cx="514.9" cy="327" rx="5.15" ry="4.85" fill="none" stroke="#1a1aff" stroke-width="1.15"/><path d="M513.4 324.9C513.7 323.6 516.6 323.6 516.3 325.6L513.3 329.7H516.4" fill="none" stroke="#2a2aff" stroke-width="0.95" stroke-linecap="round" stroke-linejoin="round"/>
<ellipse cx="635" cy="327" rx="5.15" ry="4.85" fill="none" stroke="#1a1aff" stroke-width="1.15"/><path d="M633.6 324.7C634.2 323.6 636.6 323.8 636.3 325.6C636.1 326.6 635.3 326.8 634.7 326.8C636.2 326.8 636.8 327.8 636.5 328.9C636.1 330.1 634.2 330.1 633.5 329.3" fill="none" stroke="#2a2aff" stroke-width="0.95" stroke-linecap="round" stroke-linejoin="round"/>
<polyline points="392.68,507.39 400.52,507.16 408.37,506.03 416.21,503.87 424.05,500.13 431.89,496.84 439.73,491.85 447.57,485.5 455.42,482.32 463.26,475.75 471.1,472.12 478.94,467.7 486.78,466 494.62,464.52 502.47,462.59 510.31,461.91 518.15,461.91 525.99,461.91 533.83,461.57 541.67,462.59 549.52,464.52 557.36,468.04 565.2,472.35 573.04,476.2 580.88,481.87 588.72,485.5 596.57,491.06 604.41,494.57 612.25,499.68 620.09,503.08 627.93,507.95 635.77,510.79 643.62,514.3 651.46,515.78 659.3,517.25 667.14,518.16 672.32,518.39" fill="none" stroke="#000000" stroke-width="1" stroke-linejoin="round"/>
<rect x="390.28" y="504.99" width="4.8" height="4.8" fill="#000000"/>
<rect x="398.12" y="504.76" width="4.8" height="4.8" fill="#000000"/>
<rect x="405.97" y="503.63" width="4.8" height="4.8" fill="#000000"/>
<rect x="413.81" y="501.47" width="4.8" height="4.8" fill="#000000"/>
<rect x="421.65" y="497.73" width="4.8" height="4.8" fill="#000000"/>
<rect x="429.49" y="494.44" width="4.8" height="4.8" fill="#000000"/>
<rect x="437.33" y="489.45" width="4.8" height="4.8" fill="#000000"/>
<rect x="445.17" y="483.1" width="4.8" height="4.8" fill="#000000"/>
<rect x="453.02" y="479.92" width="4.8" height="4.8" fill="#000000"/>
<rect x="460.86" y="473.35" width="4.8" height="4.8" fill="#000000"/>
<rect x="468.7" y="469.72" width="4.8" height="4.8" fill="#000000"/>
<rect x="476.54" y="465.3" width="4.8" height="4.8" fill="#000000"/>
<rect x="484.38" y="463.6" width="4.8" height="4.8" fill="#000000"/>
<rect x="492.22" y="462.12" width="4.8" height="4.8" fill="#000000"/>
<rect x="500.07" y="460.19" width="4.8" height="4.8" fill="#000000"/>
<rect x="507.91" y="459.51" width="4.8" height="4.8" fill="#000000"/>
<rect x="515.75" y="459.51" width="4.8" height="4.8" fill="#000000"/>
<rect x="523.59" y="459.51" width="4.8" height="4.8" fill="#000000"/>
<rect x="531.43" y="459.17" width="4.8" height="4.8" fill="#000000"/>
<rect x="539.27" y="460.19" width="4.8" height="4.8" fill="#000000"/>
<rect x="547.12" y="462.12" width="4.8" height="4.8" fill="#000000"/>
<rect x="554.96" y="465.64" width="4.8" height="4.8" fill="#000000"/>
<rect x="562.8" y="469.95" width="4.8" height="4.8" fill="#000000"/>
<rect x="570.64" y="473.8" width="4.8" height="4.8" fill="#000000"/>
<rect x="578.48" y="479.47" width="4.8" height="4.8" fill="#000000"/>
<rect x="586.32" y="483.1" width="4.8" height="4.8" fill="#000000"/>
<rect x="594.17" y="488.66" width="4.8" height="4.8" fill="#000000"/>
<rect x="602.01" y="492.17" width="4.8" height="4.8" fill="#000000"/>
<rect x="609.85" y="497.28" width="4.8" height="4.8" fill="#000000"/>
<rect x="617.69" y="500.68" width="4.8" height="4.8" fill="#000000"/>
<rect x="625.53" y="505.55" width="4.8" height="4.8" fill="#000000"/>
<rect x="633.37" y="508.39" width="4.8" height="4.8" fill="#000000"/>
<rect x="641.22" y="511.9" width="4.8" height="4.8" fill="#000000"/>
<rect x="649.06" y="513.38" width="4.8" height="4.8" fill="#000000"/>
<rect x="656.9" y="514.85" width="4.8" height="4.8" fill="#000000"/>
<rect x="664.74" y="515.76" width="4.8" height="4.8" fill="#000000"/>
<rect x="669.92" y="515.99" width="4.8" height="4.8" fill="#000000"/>
<polyline points="392.68,505 400.52,505 408.37,503.08 416.21,501.04 424.05,497.75 431.89,494.01 439.73,488.9 447.57,483.8 455.42,479.15 463.26,474.95 471.1,472.12 478.94,467.02 486.78,464.41 494.62,462.25 502.47,460.44 510.31,458.96 518.15,458.74 525.99,458.17 533.83,458.96 541.67,460.67 549.52,463.39 557.36,466 565.2,468.49 573.04,471.44 580.88,475.18 588.72,479.04 596.57,484.82 604.41,490.72 612.25,494.69 620.09,498.65 627.93,503.76 635.77,506.37 643.62,509.65 651.46,511.81 659.3,512.6 667.14,513.28 672.32,513.74" fill="none" stroke="#ff0000" stroke-width="1" stroke-linejoin="round"/>
<circle cx="392.68" cy="505" r="2.6" fill="#ff0000"/>
<circle cx="400.52" cy="505" r="2.6" fill="#ff0000"/>
<circle cx="408.37" cy="503.08" r="2.6" fill="#ff0000"/>
<circle cx="416.21" cy="501.04" r="2.6" fill="#ff0000"/>
<circle cx="424.05" cy="497.75" r="2.6" fill="#ff0000"/>
<circle cx="431.89" cy="494.01" r="2.6" fill="#ff0000"/>
<circle cx="439.73" cy="488.9" r="2.6" fill="#ff0000"/>
<circle cx="447.57" cy="483.8" r="2.6" fill="#ff0000"/>
<circle cx="455.42" cy="479.15" r="2.6" fill="#ff0000"/>
<circle cx="463.26" cy="474.95" r="2.6" fill="#ff0000"/>
<circle cx="471.1" cy="472.12" r="2.6" fill="#ff0000"/>
<circle cx="478.94" cy="467.02" r="2.6" fill="#ff0000"/>
<circle cx="486.78" cy="464.41" r="2.6" fill="#ff0000"/>
<circle cx="494.62" cy="462.25" r="2.6" fill="#ff0000"/>
<circle cx="502.47" cy="460.44" r="2.6" fill="#ff0000"/>
<circle cx="510.31" cy="458.96" r="2.6" fill="#ff0000"/>
<circle cx="518.15" cy="458.74" r="2.6" fill="#ff0000"/>
<circle cx="525.99" cy="458.17" r="2.6" fill="#ff0000"/>
<circle cx="533.83" cy="458.96" r="2.6" fill="#ff0000"/>
<circle cx="541.67" cy="460.67" r="2.6" fill="#ff0000"/>
<circle cx="549.52" cy="463.39" r="2.6" fill="#ff0000"/>
<circle cx="557.36" cy="466" r="2.6" fill="#ff0000"/>
<circle cx="565.2" cy="468.49" r="2.6" fill="#ff0000"/>
<circle cx="573.04" cy="471.44" r="2.6" fill="#ff0000"/>
<circle cx="580.88" cy="475.18" r="2.6" fill="#ff0000"/>
<circle cx="588.72" cy="479.04" r="2.6" fill="#ff0000"/>
<circle cx="596.57" cy="484.82" r="2.6" fill="#ff0000"/>
<circle cx="604.41" cy="490.72" r="2.6" fill="#ff0000"/>
<circle cx="612.25" cy="494.69" r="2.6" fill="#ff0000"/>
<circle cx="620.09" cy="498.65" r="2.6" fill="#ff0000"/>
<circle cx="627.93" cy="503.76" r="2.6" fill="#ff0000"/>
<circle cx="635.77" cy="506.37" r="2.6" fill="#ff0000"/>
<circle cx="643.62" cy="509.65" r="2.6" fill="#ff0000"/>
<circle cx="651.46" cy="511.81" r="2.6" fill="#ff0000"/>
<circle cx="659.3" cy="512.6" r="2.6" fill="#ff0000"/>
<circle cx="667.14" cy="513.28" r="2.6" fill="#ff0000"/>
<circle cx="672.32" cy="513.74" r="2.6" fill="#ff0000"/>
<polyline points="392.68,503.53 400.52,503.53 408.37,502.51 416.21,499.56 424.05,496.61 431.89,493.32 439.73,487.88 447.57,483.12 455.42,479.15 463.26,473.59 471.1,469.85 478.94,465.09 486.78,462.03 494.62,460.44 502.47,458.17 510.31,456.36 518.15,456.13 525.99,455.34 533.83,456.36 541.67,458.17 549.52,460.44 557.36,463.39 565.2,466.56 573.04,470.76 580.88,475.07 588.72,477.45 596.57,484.14 604.41,487.43 612.25,493.55 620.09,497.75 627.93,503.08 635.77,506.37 643.62,509.65 651.46,512.26 659.3,513.74 667.14,514.76 672.32,515.21" fill="none" stroke="#1564e2" stroke-width="1" stroke-linejoin="round"/>
<path d="M392.68 500.78L395.43 505.68L389.93 505.68Z" fill="#1564e2"/>
<path d="M400.52 500.78L403.27 505.68L397.77 505.68Z" fill="#1564e2"/>
<path d="M408.37 499.76L411.12 504.66L405.62 504.66Z" fill="#1564e2"/>
<path d="M416.21 496.81L418.96 501.71L413.46 501.71Z" fill="#1564e2"/>
<path d="M424.05 493.86L426.8 498.76L421.3 498.76Z" fill="#1564e2"/>
<path d="M431.89 490.57L434.64 495.47L429.14 495.47Z" fill="#1564e2"/>
<path d="M439.73 485.13L442.48 490.03L436.98 490.03Z" fill="#1564e2"/>
<path d="M447.57 480.37L450.32 485.27L444.82 485.27Z" fill="#1564e2"/>
<path d="M455.42 476.4L458.17 481.3L452.67 481.3Z" fill="#1564e2"/>
<path d="M463.26 470.84L466.01 475.74L460.51 475.74Z" fill="#1564e2"/>
<path d="M471.1 467.1L473.85 472L468.35 472Z" fill="#1564e2"/>
<path d="M478.94 462.34L481.69 467.24L476.19 467.24Z" fill="#1564e2"/>
<path d="M486.78 459.28L489.53 464.18L484.03 464.18Z" fill="#1564e2"/>
<path d="M494.62 457.69L497.37 462.59L491.87 462.59Z" fill="#1564e2"/>
<path d="M502.47 455.42L505.22 460.32L499.72 460.32Z" fill="#1564e2"/>
<path d="M510.31 453.61L513.06 458.51L507.56 458.51Z" fill="#1564e2"/>
<path d="M518.15 453.38L520.9 458.28L515.4 458.28Z" fill="#1564e2"/>
<path d="M525.99 452.59L528.74 457.49L523.24 457.49Z" fill="#1564e2"/>
<path d="M533.83 453.61L536.58 458.51L531.08 458.51Z" fill="#1564e2"/>
<path d="M541.67 455.42L544.42 460.32L538.92 460.32Z" fill="#1564e2"/>
<path d="M549.52 457.69L552.27 462.59L546.77 462.59Z" fill="#1564e2"/>
<path d="M557.36 460.64L560.11 465.54L554.61 465.54Z" fill="#1564e2"/>
<path d="M565.2 463.81L567.95 468.71L562.45 468.71Z" fill="#1564e2"/>
<path d="M573.04 468.01L575.79 472.91L570.29 472.91Z" fill="#1564e2"/>
<path d="M580.88 472.32L583.63 477.22L578.13 477.22Z" fill="#1564e2"/>
<path d="M588.72 474.7L591.47 479.6L585.97 479.6Z" fill="#1564e2"/>
<path d="M596.57 481.39L599.32 486.29L593.82 486.29Z" fill="#1564e2"/>
<path d="M604.41 484.68L607.16 489.58L601.66 489.58Z" fill="#1564e2"/>
<path d="M612.25 490.8L615 495.7L609.5 495.7Z" fill="#1564e2"/>
<path d="M620.09 495L622.84 499.9L617.34 499.9Z" fill="#1564e2"/>
<path d="M627.93 500.33L630.68 505.23L625.18 505.23Z" fill="#1564e2"/>
<path d="M635.77 503.62L638.52 508.52L633.02 508.52Z" fill="#1564e2"/>
<path d="M643.62 506.9L646.37 511.8L640.87 511.8Z" fill="#1564e2"/>
<path d="M651.46 509.51L654.21 514.41L648.71 514.41Z" fill="#1564e2"/>
<path d="M659.3 510.99L662.05 515.89L656.55 515.89Z" fill="#1564e2"/>
<path d="M667.14 512.01L669.89 516.91L664.39 516.91Z" fill="#1564e2"/>
<path d="M672.32 512.46L675.07 517.36L669.57 517.36Z" fill="#1564e2"/>
<polyline points="392.68,506.37 400.52,506.37 408.37,505 416.21,503.08 424.05,499.56 431.89,496.16 439.73,491.85 447.57,486.97 455.42,483.46 463.26,479.15 471.1,476.2 478.94,472.8 486.78,470.64 494.62,467.7 502.47,466 510.31,464.52 518.15,464.52 525.99,464.07 533.83,464.07 541.67,465.09 549.52,467.36 557.36,469.17 565.2,472.12 573.04,474.73 580.88,478.02 588.72,479.72 596.57,485.16 604.41,488.9 612.25,494.35 620.09,497.75 627.93,501.6 635.77,504.55 643.62,507.39 651.46,510.45 659.3,511.81 667.14,511.81 672.32,511.81" fill="none" stroke="#006400" stroke-width="1" stroke-linejoin="round"/>
<path d="M392.68 509.12L395.43 504.22L389.93 504.22Z" fill="#006400"/>
<path d="M400.52 509.12L403.27 504.22L397.77 504.22Z" fill="#006400"/>
<path d="M408.37 507.75L411.12 502.85L405.62 502.85Z" fill="#006400"/>
<path d="M416.21 505.83L418.96 500.93L413.46 500.93Z" fill="#006400"/>
<path d="M424.05 502.31L426.8 497.41L421.3 497.41Z" fill="#006400"/>
<path d="M431.89 498.91L434.64 494.01L429.14 494.01Z" fill="#006400"/>
<path d="M439.73 494.6L442.48 489.7L436.98 489.7Z" fill="#006400"/>
<path d="M447.57 489.72L450.32 484.82L444.82 484.82Z" fill="#006400"/>
<path d="M455.42 486.21L458.17 481.31L452.67 481.31Z" fill="#006400"/>
<path d="M463.26 481.9L466.01 477L460.51 477Z" fill="#006400"/>
<path d="M471.1 478.95L473.85 474.05L468.35 474.05Z" fill="#006400"/>
<path d="M478.94 475.55L481.69 470.65L476.19 470.65Z" fill="#006400"/>
<path d="M486.78 473.39L489.53 468.49L484.03 468.49Z" fill="#006400"/>
<path d="M494.62 470.45L497.37 465.55L491.87 465.55Z" fill="#006400"/>
<path d="M502.47 468.75L505.22 463.85L499.72 463.85Z" fill="#006400"/>
<path d="M510.31 467.27L513.06 462.37L507.56 462.37Z" fill="#006400"/>
<path d="M518.15 467.27L520.9 462.37L515.4 462.37Z" fill="#006400"/>
<path d="M525.99 466.82L528.74 461.92L523.24 461.92Z" fill="#006400"/>
<path d="M533.83 466.82L536.58 461.92L531.08 461.92Z" fill="#006400"/>
<path d="M541.67 467.84L544.42 462.94L538.92 462.94Z" fill="#006400"/>
<path d="M549.52 470.11L552.27 465.21L546.77 465.21Z" fill="#006400"/>
<path d="M557.36 471.92L560.11 467.02L554.61 467.02Z" fill="#006400"/>
<path d="M565.2 474.87L567.95 469.97L562.45 469.97Z" fill="#006400"/>
<path d="M573.04 477.48L575.79 472.58L570.29 472.58Z" fill="#006400"/>
<path d="M580.88 480.77L583.63 475.87L578.13 475.87Z" fill="#006400"/>
<path d="M588.72 482.47L591.47 477.57L585.97 477.57Z" fill="#006400"/>
<path d="M596.57 487.91L599.32 483.01L593.82 483.01Z" fill="#006400"/>
<path d="M604.41 491.65L607.16 486.75L601.66 486.75Z" fill="#006400"/>
<path d="M612.25 497.1L615 492.2L609.5 492.2Z" fill="#006400"/>
<path d="M620.09 500.5L622.84 495.6L617.34 495.6Z" fill="#006400"/>
<path d="M627.93 504.35L630.68 499.45L625.18 499.45Z" fill="#006400"/>
<path d="M635.77 507.3L638.52 502.4L633.02 502.4Z" fill="#006400"/>
<path d="M643.62 510.14L646.37 505.24L640.87 505.24Z" fill="#006400"/>
<path d="M651.46 513.2L654.21 508.3L648.71 508.3Z" fill="#006400"/>
<path d="M659.3 514.56L662.05 509.66L656.55 509.66Z" fill="#006400"/>
<path d="M667.14 514.56L669.89 509.66L664.39 509.66Z" fill="#006400"/>
<path d="M672.32 514.56L675.07 509.66L669.57 509.66Z" fill="#006400"/>
<line x1="456.1" y1="403.5" x2="481.3" y2="403.5" stroke="#000000" stroke-width="1.1"/>
<rect x="466.6" y="401.1" width="4.8" height="4.8" fill="#000000"/>
<text x="483.5" y="406.8" font-size="9.6">Pre-splitting depth of 10 m</text>
<line x1="456.1" y1="417.1" x2="481.3" y2="417.1" stroke="#ff0000" stroke-width="1.1"/>
<circle cx="469" cy="417.1" r="2.6" fill="#ff0000"/>
<text x="483.5" y="420.4" font-size="9.6">Pre-splitting depth of 15 m</text>
<line x1="456.1" y1="430.4" x2="481.3" y2="430.4" stroke="#1564e2" stroke-width="1.1"/>
<path d="M469 427.65L471.75 432.55L466.25 432.55Z" fill="#1564e2"/>
<text x="483.5" y="433.7" font-size="9.6">Pre-splitting depth of 20 m</text>
<line x1="456.1" y1="444.4" x2="481.3" y2="444.4" stroke="#006400" stroke-width="1.1"/>
<path d="M469 447.15L471.75 442.25L466.25 442.25Z" fill="#006400"/>
<text x="483.5" y="447.7" font-size="9.6">Pre-splitting depth of 25 m</text>
<ellipse cx="469.3" cy="354.2" rx="5.15" ry="4.85" fill="none" stroke="#1a1aff" stroke-width="1.15"/><path d="M468 352.3L469.2 351.2V357.2" fill="none" stroke="#2a2aff" stroke-width="0.95" stroke-linecap="round" stroke-linejoin="round"/>
<text x="484.6" y="359.2" font-size="9.6">Behind the setup entry</text>
<ellipse cx="469.3" cy="371.7" rx="5.15" ry="4.85" fill="none" stroke="#1a1aff" stroke-width="1.15"/><path d="M467.8 369.6C468.1 368.3 471 368.3 470.7 370.3L467.7 374.4H470.8" fill="none" stroke="#2a2aff" stroke-width="0.95" stroke-linecap="round" stroke-linejoin="round"/>
<text x="484.6" y="376.7" font-size="9.6">Goaf</text>
<ellipse cx="469.3" cy="388.2" rx="5.15" ry="4.85" fill="none" stroke="#1a1aff" stroke-width="1.15"/><path d="M467.9 385.9C468.5 384.8 470.9 385 470.6 386.8C470.4 387.8 469.6 388 469 388C470.5 388 471.1 389 470.8 390.1C470.4 391.3 468.5 391.3 467.8 390.5" fill="none" stroke="#2a2aff" stroke-width="0.95" stroke-linecap="round" stroke-linejoin="round"/>
<text x="484.6" y="394" font-size="9.6">Front the longwall panel</text>
<text transform="translate(362.7 561.9) rotate(-90)" x="0" y="0" font-size="15" textLength="246.8" lengthAdjust="spacingAndGlyphs">Strike-direction abutment pressure (MPa)</text>
<text x="416" y="582" font-size="14.87">Distance from the model boundary (m)</text>
<text x="392.8" y="603.2" font-size="15.85">(d) 20 m away from the solid coal side</text>
<path d="M213.8 623.4H495.8V850.3" fill="none" stroke="#b4b4b4" stroke-width="1"/>
<line x1="260.6" y1="624.4" x2="260.6" y2="850.3" stroke="#4a4aff" stroke-width="1" stroke-dasharray="3 2.5"/>
<line x1="418.4" y1="624.4" x2="418.4" y2="850.3" stroke="#4a4aff" stroke-width="1" stroke-dasharray="3 2.5"/>
<path d="M213.8 850.3h5M213.8 827.61h5M213.8 804.92h5M213.8 782.23h5M213.8 759.54h5M213.8 736.85h5M213.8 714.16h5M213.8 691.47h5M213.8 668.78h5M213.8 646.09h5M213.8 623.4h5M213.8 850.3v-5M245.13 850.3v-5M276.47 850.3v-5M307.8 850.3v-5M339.13 850.3v-5M370.47 850.3v-5M401.8 850.3v-5M433.13 850.3v-5M464.47 850.3v-5M495.8 850.3v-5" stroke="#000" stroke-width="1.3" fill="none"/>
<path d="M213.8 623.4V850.3H495.8" fill="none" stroke="#000" stroke-width="1.45"/>
<text x="208.5" y="854.1" font-size="14" text-anchor="end">8</text>
<text x="208.5" y="831.41" font-size="14" text-anchor="end">10</text>
<text x="208.5" y="808.72" font-size="14" text-anchor="end">12</text>
<text x="208.5" y="786.03" font-size="14" text-anchor="end">14</text>
<text x="208.5" y="763.34" font-size="14" text-anchor="end">16</text>
<text x="208.5" y="740.65" font-size="14" text-anchor="end">18</text>
<text x="208.5" y="717.96" font-size="14" text-anchor="end">20</text>
<text x="208.5" y="695.27" font-size="14" text-anchor="end">22</text>
<text x="208.5" y="672.58" font-size="14" text-anchor="end">24</text>
<text x="208.5" y="649.89" font-size="14" text-anchor="end">26</text>
<text x="208.5" y="627.2" font-size="14" text-anchor="end">28</text>
<text x="213.8" y="866.7" font-size="14" text-anchor="middle">0</text>
<text x="245.13" y="866.7" font-size="14" text-anchor="middle">20</text>
<text x="276.47" y="866.7" font-size="14" text-anchor="middle">40</text>
<text x="307.8" y="866.7" font-size="14" text-anchor="middle">60</text>
<text x="339.13" y="866.7" font-size="14" text-anchor="middle">80</text>
<text x="370.47" y="866.7" font-size="14" text-anchor="middle">100</text>
<text x="401.8" y="866.7" font-size="14" text-anchor="middle">120</text>
<text x="433.13" y="866.7" font-size="14" text-anchor="middle">140</text>
<text x="464.47" y="866.7" font-size="14" text-anchor="middle">160</text>
<text x="495.8" y="866.7" font-size="14" text-anchor="middle">180</text>
<ellipse cx="234.2" cy="635.3" rx="5.15" ry="4.85" fill="none" stroke="#1a1aff" stroke-width="1.15"/><path d="M232.9 633.4L234.1 632.3V638.3" fill="none" stroke="#2a2aff" stroke-width="0.95" stroke-linecap="round" stroke-linejoin="round"/>
<ellipse cx="337.4" cy="635.3" rx="5.15" ry="4.85" fill="none" stroke="#1a1aff" stroke-width="1.15"/><path d="M335.9 633.2C336.2 631.9 339.1 631.9 338.8 633.9L335.8 638H338.9" fill="none" stroke="#2a2aff" stroke-width="0.95" stroke-linecap="round" stroke-linejoin="round"/>
<ellipse cx="457.5" cy="635.3" rx="5.15" ry="4.85" fill="none" stroke="#1a1aff" stroke-width="1.15"/><path d="M456.1 633C456.7 631.9 459.1 632.1 458.8 633.9C458.6 634.9 457.8 635.1 457.2 635.1C458.7 635.1 459.3 636.1 459 637.2C458.6 638.4 456.7 638.4 456 637.6" fill="none" stroke="#2a2aff" stroke-width="0.95" stroke-linecap="round" stroke-linejoin="round"/>
<polyline points="215.68,824.83 223.51,824.89 231.35,824.21 239.18,823.3 247.01,821.94 254.85,820.46 262.68,818.82 270.51,816.78 278.35,814.9 286.18,813.32 294.01,811.61 301.85,809.74 309.68,808.15 317.51,807.13 325.35,806.28 333.18,805.77 341.01,805.43 348.85,805.32 356.68,805.43 364.51,805.71 372.35,806.74 380.18,809.46 388.01,811.27 395.85,812.63 403.68,814.22 411.51,816.38 419.35,818.53 427.18,820.8 435.01,823.3 442.85,824.77 450.68,827.27 458.51,828.29 466.35,829.77 474.18,830.9 482.01,831.92 489.85,832.6 495.02,832.83" fill="none" stroke="#000000" stroke-width="1" stroke-linejoin="round"/>
<rect x="213.28" y="822.43" width="4.8" height="4.8" fill="#000000"/>
<rect x="221.11" y="822.49" width="4.8" height="4.8" fill="#000000"/>
<rect x="228.95" y="821.81" width="4.8" height="4.8" fill="#000000"/>
<rect x="236.78" y="820.9" width="4.8" height="4.8" fill="#000000"/>
<rect x="244.61" y="819.54" width="4.8" height="4.8" fill="#000000"/>
<rect x="252.45" y="818.06" width="4.8" height="4.8" fill="#000000"/>
<rect x="260.28" y="816.42" width="4.8" height="4.8" fill="#000000"/>
<rect x="268.11" y="814.38" width="4.8" height="4.8" fill="#000000"/>
<rect x="275.95" y="812.5" width="4.8" height="4.8" fill="#000000"/>
<rect x="283.78" y="810.92" width="4.8" height="4.8" fill="#000000"/>
<rect x="291.61" y="809.21" width="4.8" height="4.8" fill="#000000"/>
<rect x="299.45" y="807.34" width="4.8" height="4.8" fill="#000000"/>
<rect x="307.28" y="805.75" width="4.8" height="4.8" fill="#000000"/>
<rect x="315.11" y="804.73" width="4.8" height="4.8" fill="#000000"/>
<rect x="322.95" y="803.88" width="4.8" height="4.8" fill="#000000"/>
<rect x="330.78" y="803.37" width="4.8" height="4.8" fill="#000000"/>
<rect x="338.61" y="803.03" width="4.8" height="4.8" fill="#000000"/>
<rect x="346.45" y="802.92" width="4.8" height="4.8" fill="#000000"/>
<rect x="354.28" y="803.03" width="4.8" height="4.8" fill="#000000"/>
<rect x="362.11" y="803.31" width="4.8" height="4.8" fill="#000000"/>
<rect x="369.95" y="804.34" width="4.8" height="4.8" fill="#000000"/>
<rect x="377.78" y="807.06" width="4.8" height="4.8" fill="#000000"/>
<rect x="385.61" y="808.87" width="4.8" height="4.8" fill="#000000"/>
<rect x="393.45" y="810.23" width="4.8" height="4.8" fill="#000000"/>
<rect x="401.28" y="811.82" width="4.8" height="4.8" fill="#000000"/>
<rect x="409.11" y="813.98" width="4.8" height="4.8" fill="#000000"/>
<rect x="416.95" y="816.13" width="4.8" height="4.8" fill="#000000"/>
<rect x="424.78" y="818.4" width="4.8" height="4.8" fill="#000000"/>
<rect x="432.61" y="820.9" width="4.8" height="4.8" fill="#000000"/>
<rect x="440.45" y="822.37" width="4.8" height="4.8" fill="#000000"/>
<rect x="448.28" y="824.87" width="4.8" height="4.8" fill="#000000"/>
<rect x="456.11" y="825.89" width="4.8" height="4.8" fill="#000000"/>
<rect x="463.95" y="827.37" width="4.8" height="4.8" fill="#000000"/>
<rect x="471.78" y="828.5" width="4.8" height="4.8" fill="#000000"/>
<rect x="479.61" y="829.52" width="4.8" height="4.8" fill="#000000"/>
<rect x="487.45" y="830.2" width="4.8" height="4.8" fill="#000000"/>
<rect x="492.62" y="830.43" width="4.8" height="4.8" fill="#000000"/>
<polyline points="215.68,824.04 223.51,824.09 231.35,823.41 239.18,822.5 247.01,821.14 254.85,819.67 262.68,818.02 270.51,815.98 278.35,814.11 286.18,812.52 294.01,810.82 301.85,808.95 309.68,807.36 317.51,806.34 325.35,805.49 333.18,804.98 341.01,804.64 348.85,804.52 356.68,804.64 364.51,804.92 372.35,805.94 380.18,805.71 388.01,807.19 395.85,808.66 403.68,810.48 411.51,812.86 419.35,815.13 427.18,817.17 435.01,819.56 442.85,821.82 450.68,823.64 458.51,825.11 466.35,826.59 474.18,827.61 482.01,828.63 489.85,829.08 495.02,829.43" fill="none" stroke="#ff0000" stroke-width="1" stroke-linejoin="round"/>
<circle cx="215.68" cy="824.04" r="2.6" fill="#ff0000"/>
<circle cx="223.51" cy="824.09" r="2.6" fill="#ff0000"/>
<circle cx="231.35" cy="823.41" r="2.6" fill="#ff0000"/>
<circle cx="239.18" cy="822.5" r="2.6" fill="#ff0000"/>
<circle cx="247.01" cy="821.14" r="2.6" fill="#ff0000"/>
<circle cx="254.85" cy="819.67" r="2.6" fill="#ff0000"/>
<circle cx="262.68" cy="818.02" r="2.6" fill="#ff0000"/>
<circle cx="270.51" cy="815.98" r="2.6" fill="#ff0000"/>
<circle cx="278.35" cy="814.11" r="2.6" fill="#ff0000"/>
<circle cx="286.18" cy="812.52" r="2.6" fill="#ff0000"/>
<circle cx="294.01" cy="810.82" r="2.6" fill="#ff0000"/>
<circle cx="301.85" cy="808.95" r="2.6" fill="#ff0000"/>
<circle cx="309.68" cy="807.36" r="2.6" fill="#ff0000"/>
<circle cx="317.51" cy="806.34" r="2.6" fill="#ff0000"/>
<circle cx="325.35" cy="805.49" r="2.6" fill="#ff0000"/>
<circle cx="333.18" cy="804.98" r="2.6" fill="#ff0000"/>
<circle cx="341.01" cy="804.64" r="2.6" fill="#ff0000"/>
<circle cx="348.85" cy="804.52" r="2.6" fill="#ff0000"/>
<circle cx="356.68" cy="804.64" r="2.6" fill="#ff0000"/>
<circle cx="364.51" cy="804.92" r="2.6" fill="#ff0000"/>
<circle cx="372.35" cy="805.94" r="2.6" fill="#ff0000"/>
<circle cx="380.18" cy="805.71" r="2.6" fill="#ff0000"/>
<circle cx="388.01" cy="807.19" r="2.6" fill="#ff0000"/>
<circle cx="395.85" cy="808.66" r="2.6" fill="#ff0000"/>
<circle cx="403.68" cy="810.48" r="2.6" fill="#ff0000"/>
<circle cx="411.51" cy="812.86" r="2.6" fill="#ff0000"/>
<circle cx="419.35" cy="815.13" r="2.6" fill="#ff0000"/>
<circle cx="427.18" cy="817.17" r="2.6" fill="#ff0000"/>
<circle cx="435.01" cy="819.56" r="2.6" fill="#ff0000"/>
<circle cx="442.85" cy="821.82" r="2.6" fill="#ff0000"/>
<circle cx="450.68" cy="823.64" r="2.6" fill="#ff0000"/>
<circle cx="458.51" cy="825.11" r="2.6" fill="#ff0000"/>
<circle cx="466.35" cy="826.59" r="2.6" fill="#ff0000"/>
<circle cx="474.18" cy="827.61" r="2.6" fill="#ff0000"/>
<circle cx="482.01" cy="828.63" r="2.6" fill="#ff0000"/>
<circle cx="489.85" cy="829.08" r="2.6" fill="#ff0000"/>
<circle cx="495.02" cy="829.43" r="2.6" fill="#ff0000"/>
<polyline points="215.68,823.75 223.51,823.75 231.35,822.85 239.18,821.71 247.01,820.35 254.85,818.87 262.68,817.29 270.51,815.13 278.35,813.09 286.18,811.73 294.01,809.68 301.85,807.53 309.68,805.83 317.51,804.58 325.35,803.56 333.18,802.88 341.01,802.42 348.85,802.31 356.68,802.42 364.51,802.65 372.35,804.01 380.18,805.37 388.01,806.85 395.85,808.32 403.68,810.14 411.51,812.52 419.35,814.79 427.18,816.83 435.01,819.21 442.85,821.48 450.68,823.3 458.51,824.77 466.35,826.25 474.18,827.27 482.01,828.29 489.85,828.74 495.02,829.08" fill="none" stroke="#1564e2" stroke-width="1" stroke-linejoin="round"/>
<path d="M215.68 821L218.43 825.9L212.93 825.9Z" fill="#1564e2"/>
<path d="M223.51 821L226.26 825.9L220.76 825.9Z" fill="#1564e2"/>
<path d="M231.35 820.1L234.1 825L228.6 825Z" fill="#1564e2"/>
<path d="M239.18 818.96L241.93 823.86L236.43 823.86Z" fill="#1564e2"/>
<path d="M247.01 817.6L249.76 822.5L244.26 822.5Z" fill="#1564e2"/>
<path d="M254.85 816.12L257.6 821.02L252.1 821.02Z" fill="#1564e2"/>
<path d="M262.68 814.54L265.43 819.44L259.93 819.44Z" fill="#1564e2"/>
<path d="M270.51 812.38L273.26 817.28L267.76 817.28Z" fill="#1564e2"/>
<path d="M278.35 810.34L281.1 815.24L275.6 815.24Z" fill="#1564e2"/>
<path d="M286.18 808.98L288.93 813.88L283.43 813.88Z" fill="#1564e2"/>
<path d="M294.01 806.93L296.76 811.83L291.26 811.83Z" fill="#1564e2"/>
<path d="M301.85 804.78L304.6 809.68L299.1 809.68Z" fill="#1564e2"/>
<path d="M309.68 803.08L312.43 807.98L306.93 807.98Z" fill="#1564e2"/>
<path d="M317.51 801.83L320.26 806.73L314.76 806.73Z" fill="#1564e2"/>
<path d="M325.35 800.81L328.1 805.71L322.6 805.71Z" fill="#1564e2"/>
<path d="M333.18 800.13L335.93 805.03L330.43 805.03Z" fill="#1564e2"/>
<path d="M341.01 799.67L343.76 804.57L338.26 804.57Z" fill="#1564e2"/>
<path d="M348.85 799.56L351.6 804.46L346.1 804.46Z" fill="#1564e2"/>
<path d="M356.68 799.67L359.43 804.57L353.93 804.57Z" fill="#1564e2"/>
<path d="M364.51 799.9L367.26 804.8L361.76 804.8Z" fill="#1564e2"/>
<path d="M372.35 801.26L375.1 806.16L369.6 806.16Z" fill="#1564e2"/>
<path d="M380.18 802.62L382.93 807.52L377.43 807.52Z" fill="#1564e2"/>
<path d="M388.01 804.1L390.76 809L385.26 809Z" fill="#1564e2"/>
<path d="M395.85 805.57L398.6 810.47L393.1 810.47Z" fill="#1564e2"/>
<path d="M403.68 807.39L406.43 812.29L400.93 812.29Z" fill="#1564e2"/>
<path d="M411.51 809.77L414.26 814.67L408.76 814.67Z" fill="#1564e2"/>
<path d="M419.35 812.04L422.1 816.94L416.6 816.94Z" fill="#1564e2"/>
<path d="M427.18 814.08L429.93 818.98L424.43 818.98Z" fill="#1564e2"/>
<path d="M435.01 816.46L437.76 821.36L432.26 821.36Z" fill="#1564e2"/>
<path d="M442.85 818.73L445.6 823.63L440.1 823.63Z" fill="#1564e2"/>
<path d="M450.68 820.55L453.43 825.45L447.93 825.45Z" fill="#1564e2"/>
<path d="M458.51 822.02L461.26 826.92L455.76 826.92Z" fill="#1564e2"/>
<path d="M466.35 823.5L469.1 828.4L463.6 828.4Z" fill="#1564e2"/>
<path d="M474.18 824.52L476.93 829.42L471.43 829.42Z" fill="#1564e2"/>
<path d="M482.01 825.54L484.76 830.44L479.26 830.44Z" fill="#1564e2"/>
<path d="M489.85 825.99L492.6 830.89L487.1 830.89Z" fill="#1564e2"/>
<path d="M495.02 826.33L497.77 831.23L492.27 831.23Z" fill="#1564e2"/>
<polyline points="215.68,825.45 223.51,825.57 231.35,825.11 239.18,824.43 247.01,823.07 254.85,821.6 262.68,819.9 270.51,817.97 278.35,816.26 286.18,814.45 294.01,813.09 301.85,811.5 309.68,810.03 317.51,809.23 325.35,808.55 333.18,808.21 341.01,807.98 348.85,807.87 356.68,807.98 364.51,808.32 372.35,809 380.18,809.8 388.01,810.59 395.85,811.5 403.68,812.86 411.51,814.56 419.35,815.92 427.18,817.63 435.01,819.44 442.85,821.03 450.68,822.5 458.51,823.98 466.35,825 474.18,825.79 482.01,826.59 489.85,827.16 495.02,827.27" fill="none" stroke="#006400" stroke-width="1" stroke-linejoin="round"/>
<path d="M215.68 828.2L218.43 823.3L212.93 823.3Z" fill="#006400"/>
<path d="M223.51 828.32L226.26 823.42L220.76 823.42Z" fill="#006400"/>
<path d="M231.35 827.86L234.1 822.96L228.6 822.96Z" fill="#006400"/>
<path d="M239.18 827.18L241.93 822.28L236.43 822.28Z" fill="#006400"/>
<path d="M247.01 825.82L249.76 820.92L244.26 820.92Z" fill="#006400"/>
<path d="M254.85 824.35L257.6 819.45L252.1 819.45Z" fill="#006400"/>
<path d="M262.68 822.65L265.43 817.75L259.93 817.75Z" fill="#006400"/>
<path d="M270.51 820.72L273.26 815.82L267.76 815.82Z" fill="#006400"/>
<path d="M278.35 819.01L281.1 814.11L275.6 814.11Z" fill="#006400"/>
<path d="M286.18 817.2L288.93 812.3L283.43 812.3Z" fill="#006400"/>
<path d="M294.01 815.84L296.76 810.94L291.26 810.94Z" fill="#006400"/>
<path d="M301.85 814.25L304.6 809.35L299.1 809.35Z" fill="#006400"/>
<path d="M309.68 812.78L312.43 807.88L306.93 807.88Z" fill="#006400"/>
<path d="M317.51 811.98L320.26 807.08L314.76 807.08Z" fill="#006400"/>
<path d="M325.35 811.3L328.1 806.4L322.6 806.4Z" fill="#006400"/>
<path d="M333.18 810.96L335.93 806.06L330.43 806.06Z" fill="#006400"/>
<path d="M341.01 810.73L343.76 805.83L338.26 805.83Z" fill="#006400"/>
<path d="M348.85 810.62L351.6 805.72L346.1 805.72Z" fill="#006400"/>
<path d="M356.68 810.73L359.43 805.83L353.93 805.83Z" fill="#006400"/>
<path d="M364.51 811.07L367.26 806.17L361.76 806.17Z" fill="#006400"/>
<path d="M372.35 811.75L375.1 806.85L369.6 806.85Z" fill="#006400"/>
<path d="M380.18 812.55L382.93 807.65L377.43 807.65Z" fill="#006400"/>
<path d="M388.01 813.34L390.76 808.44L385.26 808.44Z" fill="#006400"/>
<path d="M395.85 814.25L398.6 809.35L393.1 809.35Z" fill="#006400"/>
<path d="M403.68 815.61L406.43 810.71L400.93 810.71Z" fill="#006400"/>
<path d="M411.51 817.31L414.26 812.41L408.76 812.41Z" fill="#006400"/>
<path d="M419.35 818.67L422.1 813.77L416.6 813.77Z" fill="#006400"/>
<path d="M427.18 820.38L429.93 815.48L424.43 815.48Z" fill="#006400"/>
<path d="M435.01 822.19L437.76 817.29L432.26 817.29Z" fill="#006400"/>
<path d="M442.85 823.78L445.6 818.88L440.1 818.88Z" fill="#006400"/>
<path d="M450.68 825.25L453.43 820.35L447.93 820.35Z" fill="#006400"/>
<path d="M458.51 826.73L461.26 821.83L455.76 821.83Z" fill="#006400"/>
<path d="M466.35 827.75L469.1 822.85L463.6 822.85Z" fill="#006400"/>
<path d="M474.18 828.54L476.93 823.64L471.43 823.64Z" fill="#006400"/>
<path d="M482.01 829.34L484.76 824.44L479.26 824.44Z" fill="#006400"/>
<path d="M489.85 829.91L492.6 825.01L487.1 825.01Z" fill="#006400"/>
<path d="M495.02 830.02L497.77 825.12L492.27 825.12Z" fill="#006400"/>
<line x1="280.3" y1="717.9" x2="305" y2="717.9" stroke="#000000" stroke-width="1.1"/>
<rect x="290.2" y="715.5" width="4.8" height="4.8" fill="#000000"/>
<text x="308.3" y="721.2" font-size="9.6">Pre-splitting depth of 10 m</text>
<line x1="280.3" y1="731.7" x2="305" y2="731.7" stroke="#ff0000" stroke-width="1.1"/>
<circle cx="292.6" cy="731.7" r="2.6" fill="#ff0000"/>
<text x="308.3" y="735" font-size="9.6">Pre-splitting depth of 15 m</text>
<line x1="280.3" y1="745.2" x2="305" y2="745.2" stroke="#1564e2" stroke-width="1.1"/>
<path d="M292.6 742.45L295.35 747.35L289.85 747.35Z" fill="#1564e2"/>
<text x="308.3" y="748.5" font-size="9.6">Pre-splitting depth of 20 m</text>
<line x1="280.3" y1="758.8" x2="305" y2="758.8" stroke="#006400" stroke-width="1.1"/>
<path d="M292.6 761.55L295.35 756.65L289.85 756.65Z" fill="#006400"/>
<text x="308.3" y="762.1" font-size="9.6">Pre-splitting depth of 25 m</text>
<ellipse cx="292.3" cy="668" rx="5.15" ry="4.85" fill="none" stroke="#1a1aff" stroke-width="1.15"/><path d="M291 666.1L292.2 665V671" fill="none" stroke="#2a2aff" stroke-width="0.95" stroke-linecap="round" stroke-linejoin="round"/>
<text x="307.7" y="673" font-size="9.6">Behind the setup entry</text>
<ellipse cx="292.3" cy="685" rx="5.15" ry="4.85" fill="none" stroke="#1a1aff" stroke-width="1.15"/><path d="M290.8 682.9C291.1 681.6 294 681.6 293.7 683.6L290.7 687.7H293.8" fill="none" stroke="#2a2aff" stroke-width="0.95" stroke-linecap="round" stroke-linejoin="round"/>
<text x="307.7" y="690" font-size="9.6">Goaf</text>
<ellipse cx="292.3" cy="702.1" rx="5.15" ry="4.85" fill="none" stroke="#1a1aff" stroke-width="1.15"/><path d="M290.9 699.8C291.5 698.7 293.9 698.9 293.6 700.7C293.4 701.7 292.6 701.9 292 701.9C293.5 701.9 294.1 702.9 293.8 704C293.4 705.2 291.5 705.2 290.8 704.4" fill="none" stroke="#2a2aff" stroke-width="0.95" stroke-linecap="round" stroke-linejoin="round"/>
<text x="307.7" y="707.9" font-size="9.6">Front the longwall panel</text>
<text transform="translate(185.3 870.1) rotate(-90)" x="0" y="0" font-size="15" textLength="247.1" lengthAdjust="spacingAndGlyphs">Strike-direction abutment pressure (MPa)</text>
<text x="239.4" y="889.9" font-size="14.87">Distance from the model boundary (m)</text>
<text x="217.6" y="911.4" font-size="15.85">(e) 40 m away from the solid coal side</text>
</svg></body></html>
